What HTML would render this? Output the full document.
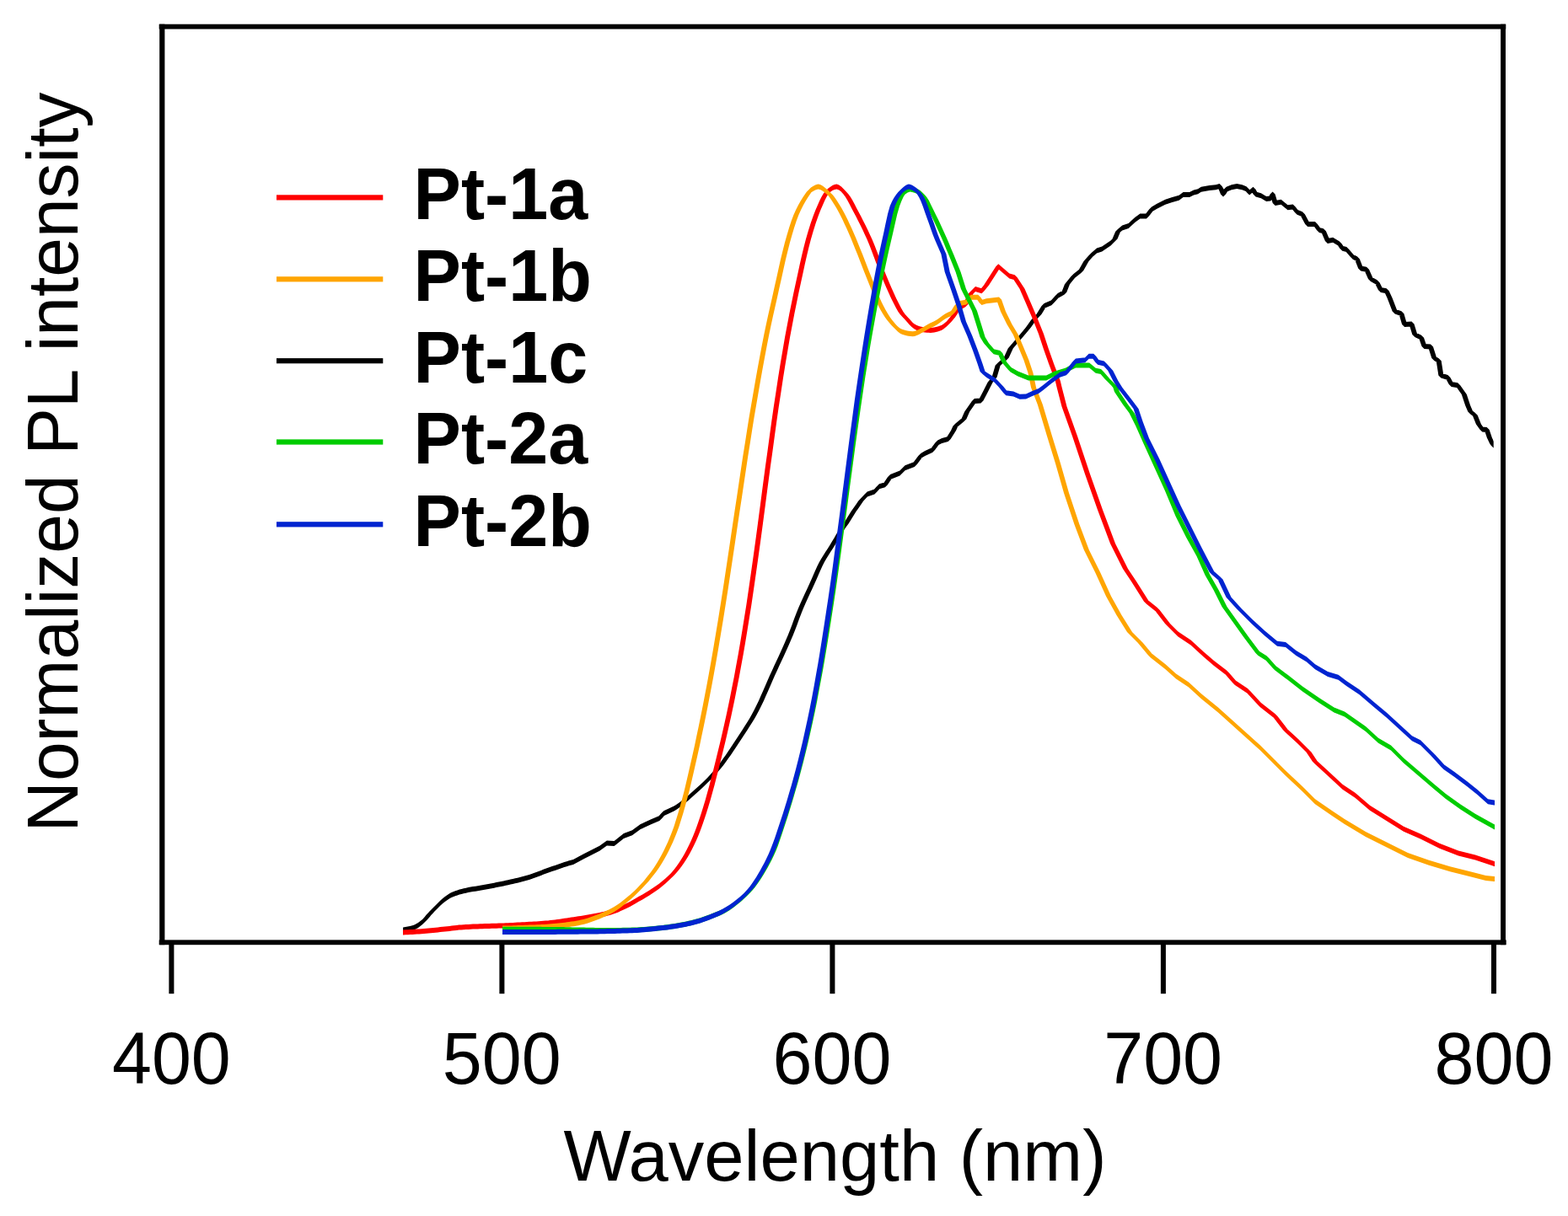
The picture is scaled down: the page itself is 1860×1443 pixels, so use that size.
<!DOCTYPE html>
<html lang="en"><head><meta charset="utf-8"><title>Normalized PL intensity vs Wavelength</title>
<style>
html,body{margin:0;padding:0;background:#fff;}
body{width:1860px;height:1443px;overflow:hidden;}
svg{display:block;}
text{font-family:"Liberation Sans",sans-serif;fill:#000;}
.tick{font-size:84.4px;text-anchor:middle;}
.axl{font-size:83.3px;text-anchor:middle;}
.leg{font-size:84.5px;font-weight:bold;}
</style></head><body>
<svg width="1860" height="1443" viewBox="0 0 1860 1443">
<rect x="0" y="0" width="1860" height="1443" fill="#ffffff"/>

<defs><clipPath id="c470"><rect x="478.1" y="0" width="1295" height="1443"/></clipPath><clipPath id="c500"><rect x="596" y="0" width="1177.1" height="1443"/></clipPath><clipPath id="cblk"><rect x="478.1" y="0" width="1293.6" height="1443"/></clipPath></defs>
<g id="curves">
<path d="M473 1103.6L476 1100.6L478.1 1100.4L481.1 1103.4L478.1 1106.4L476 1106.6ZM475.1 1103.4L478.1 1100.4L480.9 1100L483.9 1103L480.9 1106L478.1 1106.4ZM477.9 1103L480.9 1100L483.6 1099.6L486.6 1102.6L483.6 1105.6L480.9 1106ZM480.6 1102.6L483.6 1099.6L486.4 1099L489.4 1102L486.4 1105L483.6 1105.6ZM483.4 1102L486.4 1099L489.2 1098.3L492.2 1101.3L489.2 1104.3L486.4 1105ZM486.2 1101.3L489.2 1098.3L491.5 1097.4L494.5 1100.4L491.5 1103.4L489.2 1104.3ZM488.5 1100.4L491.5 1097.4L493.7 1096.3L496.7 1099.3L493.7 1102.3L491.5 1103.4ZM490.7 1099.3L493.7 1096.3L496 1094.9L499 1097.9L496 1100.9L493.7 1102.3ZM493 1097.9L496 1094.9L498.6 1093.1L501.6 1096.1L498.6 1099.1L496 1100.9ZM495.6 1096.1L498.6 1093.1L501.1 1090.9L504.1 1093.9L501.1 1096.9L498.6 1099.1ZM498.1 1093.9L501.1 1090.9L503.7 1088.5L506.7 1091.5L503.7 1094.5L501.1 1096.9ZM500.7 1091.5L503.4 1088.4L506.4 1085.4L509.4 1088.4L506.7 1091.5L503.7 1094.5ZM503.4 1088.4L506 1085.2L509 1082.2L512 1085.2L509.4 1088.4L506.4 1091.4ZM506 1085.2L509 1082.2L510.8 1080.4L513.8 1083.4L510.8 1086.4L509 1088.2ZM507.8 1083.4L509.5 1081.6L512.5 1078.6L515.5 1081.6L513.8 1083.4L510.8 1086.4ZM509.5 1081.6L512 1079L515 1076L518 1079L515.5 1081.6L512.5 1084.6ZM512 1079L514.5 1076.4L517.5 1073.4L520.5 1076.4L518 1079L515 1082ZM514.5 1076.4L520 1070.9L523 1073.9L517.5 1079.4ZM517 1073.9L520 1070.9L522.5 1068.5L525.5 1071.5L522.5 1074.5L520 1076.9ZM519.5 1071.5L522.5 1068.5L525 1066.3L528 1069.3L525 1072.3L522.5 1074.5ZM522 1069.3L525 1066.3L527.5 1064.3L530.5 1067.3L527.5 1070.3L525 1072.3ZM524.5 1067.3L527.5 1064.3L530 1062.4L533 1065.4L530 1068.4L527.5 1070.3ZM527 1065.4L530 1062.4L532.5 1060.7L535.5 1063.7L532.5 1066.7L530 1068.4ZM529.5 1063.7L532.5 1060.7L535 1059.3L538 1062.3L535 1065.3L532.5 1066.7ZM532 1062.3L535 1059.3L537.5 1058.2L540.5 1061.2L537.5 1064.2L535 1065.3ZM534.5 1061.2L537.5 1058.2L540 1057.2L543 1060.2L540 1063.2L537.5 1064.2ZM537 1060.2L540 1057.2L542.5 1056.4L545.5 1059.4L542.5 1062.4L540 1063.2ZM539.5 1059.4L542.5 1056.4L545 1055.6L548 1058.6L545 1061.6L542.5 1062.4ZM542 1058.6L545 1055.6L547.5 1054.9L550.5 1057.9L547.5 1060.9L545 1061.6ZM544.5 1057.9L547.5 1054.9L550 1054.3L553 1057.3L550 1060.3L547.5 1060.9ZM547 1057.3L550 1054.3L552.8 1053.7L555.8 1056.7L552.8 1059.7L550 1060.3ZM549.8 1056.7L552.8 1053.7L555.6 1053.1L558.6 1056.1L555.6 1059.1L552.8 1059.7ZM552.6 1056.1L555.6 1053.1L558.3 1052.6L561.3 1055.6L558.3 1058.6L555.6 1059.1ZM555.3 1055.6L558.3 1052.6L561.1 1052.1L564.1 1055.1L561.1 1058.1L558.3 1058.6ZM558.1 1055.1L561.1 1052.1L563.9 1051.7L566.9 1054.7L563.9 1057.7L561.1 1058.1ZM560.9 1054.7L563.9 1051.7L566.7 1051.2L569.7 1054.2L566.7 1057.2L563.9 1057.7ZM563.7 1054.2L566.7 1051.2L569.4 1050.8L572.4 1053.8L569.4 1056.8L566.7 1057.2ZM566.4 1053.8L569.4 1050.8L572.2 1050.3L575.2 1053.3L572.2 1056.3L569.4 1056.8ZM569.2 1053.3L572.2 1050.3L575 1049.8L578 1052.8L575 1055.8L572.2 1056.3ZM572 1052.8L575 1049.8L577.8 1049.3L580.8 1052.3L577.8 1055.3L575 1055.8ZM574.8 1052.3L577.8 1049.3L580.6 1048.7L583.6 1051.7L580.6 1054.7L577.8 1055.3ZM577.6 1051.7L580.6 1048.7L583.3 1048.2L586.3 1051.2L583.3 1054.2L580.6 1054.7ZM580.3 1051.2L583.3 1048.2L586.1 1047.7L589.1 1050.7L586.1 1053.7L583.3 1054.2ZM583.1 1050.7L586.1 1047.7L588.9 1047.1L591.9 1050.1L588.9 1053.1L586.1 1053.7ZM585.9 1050.1L588.9 1047.1L591.7 1046.6L594.7 1049.6L591.7 1052.6L588.9 1053.1ZM588.7 1049.6L591.7 1046.6L594.4 1046L597.4 1049L594.4 1052L591.7 1052.6ZM591.4 1049L594.4 1046L597.2 1045.4L600.2 1048.4L597.2 1051.4L594.4 1052ZM594.2 1048.4L597.2 1045.4L600 1044.8L603 1047.8L600 1050.8L597.2 1051.4ZM597 1047.8L600 1044.8L602.8 1044.2L605.8 1047.2L602.8 1050.2L600 1050.8ZM599.8 1047.2L602.8 1044.2L605.6 1043.6L608.6 1046.6L605.6 1049.6L602.8 1050.2ZM602.6 1046.6L605.6 1043.6L608.3 1043L611.3 1046L608.3 1049L605.6 1049.6ZM605.3 1046L608.3 1043L611.1 1042.3L614.1 1045.3L611.1 1048.3L608.3 1049ZM608.1 1045.3L611.1 1042.3L613.9 1041.7L616.9 1044.7L613.9 1047.7L611.1 1048.3ZM610.9 1044.7L613.9 1041.7L616.7 1041L619.7 1044L616.7 1047L613.9 1047.7ZM613.7 1044L616.7 1041L619.4 1040.3L622.4 1043.3L619.4 1046.3L616.7 1047ZM616.4 1043.3L619.4 1040.3L622.2 1039.6L625.2 1042.6L622.2 1045.6L619.4 1046.3ZM619.2 1042.6L622.2 1039.6L625 1038.8L628 1041.8L625 1044.8L622.2 1045.6ZM622 1041.8L625 1038.8L627.8 1038L630.8 1041L627.8 1044L625 1044.8ZM624.8 1041L627.8 1038L630.6 1037L633.6 1040L630.6 1043L627.8 1044ZM627.6 1040L630.6 1037L633.3 1036L636.3 1039L633.3 1042L630.6 1043ZM630.3 1039L633.3 1036L636.1 1035L639.1 1038L636.1 1041L633.3 1042ZM633.1 1038L636.1 1035L638.9 1034L641.9 1037L638.9 1040L636.1 1041ZM635.9 1037L638.9 1034L641.7 1032.9L644.7 1035.9L641.7 1038.9L638.9 1040ZM638.7 1035.9L641.7 1032.9L644.4 1031.8L647.4 1034.8L644.4 1037.8L641.7 1038.9ZM641.4 1034.8L644.4 1031.8L647.2 1030.8L650.2 1033.8L647.2 1036.8L644.4 1037.8ZM644.2 1033.8L647.2 1030.8L650 1029.8L653 1032.8L650 1035.8L647.2 1036.8ZM647 1032.8L650 1029.8L652.8 1028.8L655.8 1031.8L652.8 1034.8L650 1035.8ZM649.8 1031.8L652.8 1028.8L655.6 1027.8L658.6 1030.8L655.6 1033.8L652.8 1034.8ZM652.6 1030.8L655.6 1027.8L658.3 1026.9L661.3 1029.9L658.3 1032.9L655.6 1033.8ZM655.3 1029.9L658.3 1026.9L661.1 1025.9L664.1 1028.9L661.1 1031.9L658.3 1032.9ZM658.1 1028.9L661.1 1025.9L663.9 1024.9L666.9 1027.9L663.9 1030.9L661.1 1031.9ZM660.9 1027.9L663.9 1024.9L666.7 1024L669.7 1027L666.7 1030L663.9 1030.9ZM663.7 1027L666.7 1024L669.4 1023L672.4 1026L669.4 1029L666.7 1030ZM666.4 1026L669.4 1023L672.2 1022.2L675.2 1025.2L672.2 1028.2L669.4 1029ZM669.2 1025.2L672.2 1022.2L675 1021.3L678 1024.3L675 1027.3L672.2 1028.2ZM672 1024.3L675 1021.3L680 1019.9L683 1022.9L680 1025.9L675 1027.3ZM677 1022.9L680 1019.9L692.5 1013.3L695.5 1016.3L692.5 1019.3L680 1025.9ZM689.5 1016.3L692.5 1013.3L711.2 1003.7L714.2 1006.7L711.2 1009.7L692.5 1019.3ZM708.2 1006.7L711.2 1003.7L719.9 997.4L722.9 1000.4L719.9 1003.4L711.2 1009.7ZM716.9 1000.4L719.9 997.4L728.6 998.1L731.6 1001.1L728.6 1004.1L719.9 1003.4ZM725.6 1001.1L728.6 998.1L739.9 989.1L742.9 992.1L739.9 995.1L728.6 1004.1ZM736.9 992.1L739.9 989.1L749.9 985.2L752.9 988.2L749.9 991.2L739.9 995.1ZM746.9 988.2L749.9 985.2L759.8 978.1L762.8 981.1L759.8 984.1L749.9 991.2ZM756.8 981.1L759.8 978.1L772.3 972.3L775.3 975.3L772.3 978.3L759.8 984.1ZM769.3 975.3L772.3 972.3L782.3 968L785.3 971L782.3 974L772.3 978.3ZM779.3 971L784.3 965.3L787.3 962.3L790.3 965.3L785.3 971L782.3 974ZM784.3 965.3L787.3 962.3L798.5 957.1L801.5 960.1L798.5 963.1L787.3 968.3ZM795.5 960.1L798.5 957.1L800 956.3L803 959.3L800 962.3L798.5 963.1ZM797 959.3L800 956.3L802.8 954.5L805.8 957.5L802.8 960.5L800 962.3ZM799.8 957.5L802.8 954.5L805.6 952.6L808.6 955.6L805.6 958.6L802.8 960.5ZM802.6 955.6L805.6 952.6L808.3 950.5L811.3 953.5L808.3 956.5L805.6 958.6ZM805.3 953.5L808.3 950.5L811.1 948.3L814.1 951.3L811.1 954.3L808.3 956.5ZM808.1 951.3L811.1 948.3L813.9 946L816.9 949L813.9 952L811.1 954.3ZM810.9 949L813.9 946L816.7 943.7L819.7 946.7L816.7 949.7L813.9 952ZM813.7 946.7L816.7 943.7L819.4 941.2L822.4 944.2L819.4 947.2L816.7 949.7ZM816.4 944.2L819.4 941.2L822.2 938.8L825.2 941.8L822.2 944.8L819.4 947.2ZM819.2 941.8L822.2 938.8L825 936.3L828 939.3L825 942.3L822.2 944.8ZM822 939.3L825 936.3L827.8 933.8L830.8 936.8L827.8 939.8L825 942.3ZM824.8 936.8L827.8 933.8L830.6 931.3L833.6 934.3L830.6 937.3L827.8 939.8ZM827.6 934.3L830.6 931.3L833.3 928.7L836.3 931.7L833.3 934.7L830.6 937.3ZM830.3 931.7L833.3 928.7L836.1 926L839.1 929L836.1 932L833.3 934.7ZM833.1 929L836.1 926L838.9 923.3L841.9 926.3L838.9 929.3L836.1 932ZM835.9 926.3L838.9 923.3L841.7 920.5L844.7 923.5L841.7 926.5L838.9 929.3ZM838.7 923.5L841.4 920.5L844.4 917.5L847.4 920.5L844.7 923.5L841.7 926.5ZM841.4 920.5L844.2 917.5L847.2 914.5L850.2 917.5L847.4 920.5L844.4 923.5ZM844.2 917.5L847 914.3L850 911.3L853 914.3L850.2 917.5L847.2 920.5ZM847 914.3L849.8 911L852.8 908L855.8 911L853 914.3L850 917.3ZM849.8 911L852.6 907.4L855.6 904.4L858.6 907.4L855.8 911L852.8 914ZM852.6 907.4L855.3 903.7L858.3 900.7L861.3 903.7L858.6 907.4L855.6 910.4ZM855.3 903.7L858.1 899.8L861.1 896.8L864.1 899.8L861.3 903.7L858.3 906.7ZM858.1 899.8L860.9 895.9L863.9 892.9L866.9 895.9L864.1 899.8L861.1 902.8ZM860.9 895.9L863.7 891.8L866.7 888.8L869.7 891.8L866.9 895.9L863.9 898.9ZM863.7 891.8L866.4 887.7L869.4 884.7L872.4 887.7L869.7 891.8L866.7 894.8ZM866.4 887.7L869.2 883.5L872.2 880.5L875.2 883.5L872.4 887.7L869.4 890.7ZM869.2 883.5L872 879.3L875 876.3L878 879.3L875.2 883.5L872.2 886.5ZM872 879.3L874.8 875.1L877.8 872.1L880.8 875.1L878 879.3L875 882.3ZM874.8 875.1L877.6 870.8L880.6 867.8L883.6 870.8L880.8 875.1L877.8 878.1ZM877.6 870.8L880.4 866.5L883.4 863.5L886.4 866.5L883.6 870.8L880.6 873.8ZM880.4 866.5L883.2 862.1L886.2 859.1L889.2 862.1L886.4 866.5L883.4 869.5ZM883.2 862.1L886.1 857.6L889.1 854.6L892.1 857.6L889.2 862.1L886.2 865.1ZM886.1 857.6L888.9 852.9L891.9 849.9L894.9 852.9L892.1 857.6L889.1 860.6ZM888.9 852.9L891.7 848L894.7 845L897.7 848L894.9 852.9L891.9 855.9ZM891.7 848L894.5 842.8L897.5 839.8L900.5 842.8L897.7 848L894.7 851ZM894.5 842.8L897.1 837.6L900.1 834.6L903.1 837.6L900.5 842.8L897.5 845.8ZM897.1 837.6L899.8 832L902.8 829L905.8 832L903.1 837.6L900.1 840.6ZM899.8 832L902.4 826.1L905.4 823.1L908.4 826.1L905.8 832L902.8 835ZM902.4 826.1L905.1 820L908.1 817L911.1 820L908.4 826.1L905.4 829.1ZM905.1 820L907.7 813.9L910.7 810.9L913.7 813.9L911.1 820L908.1 823ZM907.7 813.9L910.4 807.8L913.4 804.8L916.4 807.8L913.7 813.9L910.7 816.9ZM910.4 807.8L913 801.8L916 798.8L919 801.8L916.4 807.8L913.4 810.8ZM913 801.8L915.7 795.9L918.7 792.9L921.7 795.9L919 801.8L916 804.8ZM915.7 795.9L918.4 790.1L921.4 787.1L924.4 790.1L921.7 795.9L918.7 798.9ZM918.4 790.1L921.1 784.3L924.1 781.3L927.1 784.3L924.4 790.1L921.4 793.1ZM921.1 784.3L923.8 778.6L926.8 775.6L929.8 778.6L927.1 784.3L924.1 787.3ZM923.8 778.6L926.4 772.7L929.4 769.7L932.4 772.7L929.8 778.6L926.8 781.6ZM926.4 772.7L929.1 766.8L932.1 763.8L935.1 766.8L932.4 772.7L929.4 775.7ZM929.1 766.8L931.8 760.6L934.8 757.6L937.8 760.6L935.1 766.8L932.1 769.8ZM931.8 760.6L934.5 754.3L937.5 751.3L940.5 754.3L937.8 760.6L934.8 763.6ZM934.5 754.3L937 748L940 745L943 748L940.5 754.3L937.5 757.3ZM937 748L939.5 741.4L942.5 738.4L945.5 741.4L943 748L940 751ZM939.5 741.4L942 734.6L945 731.6L948 734.6L945.5 741.4L942.5 744.4ZM942 734.6L944.5 728L947.5 725L950.5 728L948 734.6L945 737.6ZM944.5 728L947 721.8L950 718.8L953 721.8L950.5 728L947.5 731ZM947 721.8L949.5 716L952.5 713L955.5 716L953 721.8L950 724.8ZM949.5 716L952 710.5L955 707.5L958 710.5L955.5 716L952.5 719ZM952 710.5L954.5 705.1L957.5 702.1L960.5 705.1L958 710.5L955 713.5ZM954.5 705.1L957 699.7L960 696.7L963 699.7L960.5 705.1L957.5 708.1ZM957 699.7L959.5 694.3L962.5 691.3L965.5 694.3L963 699.7L960 702.7ZM959.5 694.3L962 688.7L965 685.7L968 688.7L965.5 694.3L962.5 697.3ZM962 688.7L964.5 682.9L967.5 679.9L970.5 682.9L968 688.7L965 691.7ZM964.5 682.9L967 677.2L970 674.2L973 677.2L970.5 682.9L967.5 685.9ZM967 677.2L969.5 671.7L972.5 668.7L975.5 671.7L973 677.2L970 680.2ZM969.5 671.7L972 666.8L975 663.8L978 666.8L975.5 671.7L972.5 674.7ZM972 666.8L974.5 662.4L977.5 659.4L980.5 662.4L978 666.8L975 669.8ZM974.5 662.4L977 658.4L980 655.4L983 658.4L980.5 662.4L977.5 665.4ZM977 658.4L979.5 654.5L982.5 651.5L985.5 654.5L983 658.4L980 661.4ZM979.5 654.5L982 650.7L985 647.7L988 650.7L985.5 654.5L982.5 657.5ZM982 650.7L984.5 646.8L987.5 643.8L990.5 646.8L988 650.7L985 653.7ZM984.5 646.8L987 642.6L990 639.6L993 642.6L990.5 646.8L987.5 649.8ZM987 642.6L989.5 638.4L992.5 635.4L995.5 638.4L993 642.6L990 645.6ZM989.5 638.4L992 634.1L995 631.1L998 634.1L995.5 638.4L992.5 641.4ZM992 634.1L994.5 630L997.5 627L1000.5 630L998 634.1L995 637.1ZM994.5 630L997 626.2L1000 623.2L1003 626.2L1000.5 630L997.5 633ZM997 626.2L1000.7 621.2L1003.7 618.2L1006.7 621.2L1003 626.2L1000 629.2ZM1000.7 621.2L1009.5 607.1L1012.5 604.1L1015.5 607.1L1006.7 621.2L1003.7 624.2ZM1009.5 607.1L1018.2 594.6L1021.2 591.6L1024.2 594.6L1015.5 607.1L1012.5 610.1ZM1018.2 594.6L1025.7 586.5L1028.7 583.5L1031.7 586.5L1024.2 594.6L1021.2 597.6ZM1025.7 586.5L1028.7 583.5L1037.4 580.4L1040.4 583.4L1037.4 586.4L1028.7 589.5ZM1034.4 583.4L1040 577.2L1043 574.2L1046 577.2L1040.4 583.4L1037.4 586.4ZM1040 577.2L1043 574.2L1049.9 572.3L1052.9 575.3L1049.9 578.3L1043 580.2ZM1046.9 575.3L1053.1 565.9L1056.1 562.9L1059.1 565.9L1052.9 575.3L1049.9 578.3ZM1053.1 565.9L1056.1 562.9L1067.4 558.6L1070.4 561.6L1067.4 564.6L1056.1 568.9ZM1064.4 561.6L1070.6 555.3L1073.6 552.3L1076.6 555.3L1070.4 561.6L1067.4 564.6ZM1070.6 555.3L1073.6 552.3L1084.8 548L1087.8 551L1084.8 554L1073.6 558.3ZM1081.8 551L1089.3 541L1092.3 538L1095.3 541L1087.8 551L1084.8 554ZM1089.3 541L1092.3 538L1097.3 534.9L1100.3 537.9L1097.3 540.9L1092.3 544ZM1094.3 537.9L1097.3 534.9L1106 531.1L1109 534.1L1106 537.1L1097.3 540.9ZM1103 534.1L1109.3 525.4L1112.3 522.4L1115.3 525.4L1109 534.1L1106 537.1ZM1109.3 525.4L1112.3 522.4L1117.3 519.9L1120.3 522.9L1117.3 525.9L1112.3 528.4ZM1114.3 522.9L1117.3 519.9L1124.7 518L1127.7 521L1124.7 524L1117.3 525.9ZM1121.7 521L1128 511.1L1131 508.1L1134 511.1L1127.7 521L1124.7 524ZM1128 511.1L1130.5 505.4L1133.5 502.4L1136.5 505.4L1134 511.1L1131 514.1ZM1130.5 505.4L1133.5 502.4L1143.4 494.3L1146.4 497.3L1143.4 500.3L1133.5 508.4ZM1140.4 497.3L1144.2 488.6L1147.2 485.6L1150.2 488.6L1146.4 497.3L1143.4 500.3ZM1144.2 488.6L1152.9 476.1L1155.9 473.1L1158.9 476.1L1150.2 488.6L1147.2 491.6ZM1152.9 476.1L1155.9 473.1L1163.4 472.5L1166.4 475.5L1163.4 478.5L1155.9 479.1ZM1160.4 475.5L1165.4 466.1L1168.4 463.1L1171.4 466.1L1166.4 475.5L1163.4 478.5ZM1165.4 466.1L1171.6 453.7L1174.6 450.7L1177.6 453.7L1171.4 466.1L1168.4 469.1ZM1171.6 453.7L1176.6 447.4L1179.6 444.4L1182.6 447.4L1177.6 453.7L1174.6 456.7ZM1176.6 447.4L1180.7 433.4L1183.7 430.4L1186.7 433.4L1182.6 447.4L1179.6 450.4ZM1180.7 433.4L1183.7 430.4L1193.7 421.6L1196.7 424.6L1193.7 427.6L1183.7 436.4ZM1190.7 424.6L1195.7 413.4L1198.7 410.4L1201.7 413.4L1196.7 424.6L1193.7 427.6ZM1195.7 413.4L1203.2 404.7L1206.2 401.7L1209.2 404.7L1201.7 413.4L1198.7 416.4ZM1203.2 404.7L1210.7 396L1213.7 393L1216.7 396L1209.2 404.7L1206.2 407.7ZM1210.7 396L1216.9 388.5L1219.9 385.5L1222.9 388.5L1216.7 396L1213.7 399ZM1216.9 388.5L1223.1 379.7L1226.1 376.7L1229.1 379.7L1222.9 388.5L1219.9 391.5ZM1223.1 379.7L1229.4 372.9L1232.4 369.9L1235.4 372.9L1229.1 379.7L1226.1 382.7ZM1229.4 372.9L1235.6 362.9L1238.6 359.9L1241.6 362.9L1235.4 372.9L1232.4 375.9ZM1235.6 362.9L1238.6 359.9L1247.3 356.2L1250.3 359.2L1247.3 362.2L1238.6 365.9ZM1244.3 359.2L1251.8 351.1L1254.8 348.1L1257.8 351.1L1250.3 359.2L1247.3 362.2ZM1251.8 351.1L1254.8 348.1L1262.3 343.7L1265.3 346.7L1262.3 349.7L1254.8 354.1ZM1259.3 346.7L1263 337.3L1266 334.3L1269 337.3L1265.3 346.7L1262.3 349.7ZM1263 337.3L1270.5 328L1273.5 325L1276.5 328L1269 337.3L1266 340.3ZM1270.5 328L1273.5 325L1282.3 318.1L1285.3 321.1L1282.3 324.1L1273.5 331ZM1279.3 321.1L1285.5 309.9L1288.5 306.9L1291.5 309.9L1285.3 321.1L1282.3 324.1ZM1285.5 309.9L1291.7 303L1294.7 300L1297.7 303L1291.5 309.9L1288.5 312.9ZM1291.7 303L1294.7 300L1301 294.4L1304 297.4L1301 300.4L1294.7 306ZM1298 297.4L1301 294.4L1307.2 292.5L1310.2 295.5L1307.2 298.5L1301 300.4ZM1304.2 295.5L1307.2 292.5L1317.5 285.5L1320.5 288.5L1317.5 291.5L1307.2 298.5ZM1314.5 288.5L1322.5 280.5L1325.5 283.5L1317.5 291.5ZM1319.5 283.5L1323.2 274.7L1326.2 271.7L1329.2 274.7L1325.5 283.5L1322.5 286.5ZM1323.2 274.7L1326.2 271.7L1331.2 267.4L1334.2 270.4L1331.2 273.4L1326.2 277.7ZM1328.2 270.4L1331.2 267.4L1338.7 264.9L1341.7 267.9L1338.7 270.9L1331.2 273.4ZM1335.7 267.9L1338.7 264.9L1346.2 258L1349.2 261L1346.2 264L1338.7 270.9ZM1343.2 261L1346.2 258L1352.4 253.6L1355.4 256.6L1352.4 259.6L1346.2 264ZM1349.4 256.6L1352.4 253.6L1359.9 253.6L1362.9 256.6L1359.9 259.6L1352.4 259.6ZM1356.9 256.6L1363.1 248.5L1366.1 245.5L1369.1 248.5L1362.9 256.6L1359.9 259.6ZM1363.1 248.5L1366.1 245.5L1372.4 241.8L1375.4 244.8L1372.4 247.8L1366.1 251.5ZM1369.4 244.8L1372.4 241.8L1382.3 236.8L1385.3 239.8L1382.3 242.8L1372.4 247.8ZM1379.3 239.8L1382.3 236.8L1389.8 234.3L1392.8 237.3L1389.8 240.3L1382.3 242.8ZM1386.8 237.3L1389.8 234.3L1398.6 231.8L1401.6 234.8L1398.6 237.8L1389.8 240.3ZM1395.6 234.8L1398.6 231.8L1403.6 228.1L1406.6 231.1L1403.6 234.1L1398.6 237.8ZM1400.6 231.1L1403.6 228.1L1411 228.1L1414 231.1L1411 234.1L1403.6 234.1ZM1408 231.1L1411 228.1L1416 225.6L1419 228.6L1416 231.6L1411 234.1ZM1413 228.6L1416 225.6L1421 224.3L1424 227.3L1421 230.3L1416 231.6ZM1418 227.3L1421 224.3L1424.8 221.8L1427.8 224.8L1424.8 227.8L1421 230.3ZM1421.8 224.8L1424.8 221.8L1434.7 220L1437.7 223L1434.7 226L1424.8 227.8ZM1431.7 223L1434.7 220L1442.2 219.3L1445.2 222.3L1442.2 225.3L1434.7 226ZM1439.2 222.3L1442.2 219.3L1446.6 218.1L1449.6 221.1L1446.6 224.1L1442.2 225.3ZM1443.6 221.1L1446.6 218.1L1449.6 221.1L1451.5 224.2L1448.5 227.2L1445.5 224.2ZM1445.5 224.2L1448.5 221.2L1451.5 224.2L1454 230.4L1451 233.4L1448 230.4ZM1448 230.4L1451.7 224.8L1454.7 221.8L1457.7 224.8L1454 230.4L1451 233.4ZM1451.7 224.8L1454.7 221.8L1460.9 219.3L1463.9 222.3L1460.9 225.3L1454.7 227.8ZM1457.9 222.3L1460.9 219.3L1467.2 218.1L1470.2 221.1L1467.2 224.1L1460.9 225.3ZM1464.2 221.1L1467.2 218.1L1473.4 219.3L1476.4 222.3L1473.4 225.3L1467.2 224.1ZM1470.4 222.3L1473.4 219.3L1478.4 221.2L1481.4 224.2L1478.4 227.2L1473.4 225.3ZM1475.4 224.2L1478.4 221.2L1481.4 224.2L1485.1 228.6L1482.1 231.6L1479.1 228.6ZM1479.1 228.6L1482.1 225.6L1486.5 221.8L1489.5 224.8L1486.5 227.8L1482.1 231.6ZM1483.5 224.8L1486.5 221.8L1489.5 224.8L1492.6 230.4L1489.6 233.4L1486.6 230.4ZM1486.6 230.4L1489.6 227.4L1495.9 229.3L1498.9 232.3L1495.9 235.3L1489.6 233.4ZM1492.9 232.3L1495.9 229.3L1502.1 233.1L1505.1 236.1L1502.1 239.1L1495.9 235.3ZM1499.1 236.1L1502.1 233.1L1507.1 232.4L1510.1 235.4L1507.1 238.4L1502.1 239.1ZM1504.1 235.4L1506.6 230.4L1509.6 227.4L1512.6 230.4L1510.1 235.4L1507.1 238.4ZM1506.6 230.4L1509.6 227.4L1512.6 230.4L1515.7 241.1L1512.7 244.1L1509.7 241.1ZM1509.7 241.1L1512.7 238.1L1519.6 236.8L1522.6 239.8L1519.6 242.8L1512.7 244.1ZM1516.6 239.8L1519.6 236.8L1527.5 243.2L1530.5 246.2L1527.5 249.2L1519.6 242.8ZM1524.5 246.2L1527.5 243.2L1533.7 242.5L1536.7 245.5L1533.7 248.5L1527.5 249.2ZM1530.7 245.5L1533.7 242.5L1536.7 245.5L1541.7 251.8L1538.7 254.8L1535.7 251.8ZM1535.7 251.8L1538.7 248.8L1544.9 251.3L1547.9 254.3L1544.9 257.3L1538.7 254.8ZM1541.9 254.3L1544.9 251.3L1547.9 254.3L1554.2 266.1L1551.2 269.1L1548.2 266.1ZM1548.2 266.1L1551.2 263.1L1559.9 263.1L1562.9 266.1L1559.9 269.1L1551.2 269.1ZM1556.9 266.1L1559.9 263.1L1562.9 266.1L1567.9 273L1564.9 276L1561.9 273ZM1561.9 273L1564.9 270L1569.9 271.2L1572.9 274.2L1569.9 277.2L1564.9 276ZM1566.9 274.2L1569.9 271.2L1572.9 274.2L1577.9 286.1L1574.9 289.1L1571.9 286.1ZM1571.9 286.1L1574.9 283.1L1581.1 281.8L1584.1 284.8L1581.1 287.8L1574.9 289.1ZM1578.1 284.8L1581.1 281.8L1588.6 286.2L1591.6 289.2L1588.6 292.2L1581.1 287.8ZM1585.6 289.2L1588.6 286.2L1591.6 289.2L1595.3 294.8L1592.3 297.8L1589.3 294.8ZM1589.3 294.8L1592.3 291.8L1597.3 293.1L1600.3 296.1L1597.3 299.1L1592.3 297.8ZM1594.3 296.1L1597.3 293.1L1600.3 296.1L1607.8 304.8L1604.8 307.8L1601.8 304.8ZM1601.8 304.8L1604.8 301.8L1609.8 304.3L1612.8 307.3L1609.8 310.3L1604.8 307.8ZM1606.8 307.3L1609.8 304.3L1612.8 307.3L1617.2 318.5L1614.2 321.5L1611.2 318.5ZM1611.2 318.5L1614.2 315.5L1621 316.8L1624 319.8L1621 322.8L1614.2 321.5ZM1618 319.8L1621 316.8L1624 319.8L1629 331L1626 334L1623 331ZM1623 331L1626 328L1633.5 332.3L1636.5 335.3L1633.5 338.3L1626 334ZM1630.5 335.3L1633.5 332.3L1636.5 335.3L1640.9 344.1L1637.9 347.1L1634.9 344.1ZM1634.9 344.1L1637.9 341.1L1644.7 342.3L1647.7 345.3L1644.7 348.3L1637.9 347.1ZM1641.7 345.3L1644.7 342.3L1647.7 345.3L1651.5 353.4L1648.5 356.4L1645.5 353.4ZM1645.5 353.4L1648.5 350.4L1651.5 353.4L1657.7 369.6L1654.7 372.6L1651.7 369.6ZM1651.7 369.6L1654.7 366.6L1662.4 369.2L1665.4 372.2L1662.4 375.2L1654.7 372.6ZM1659.4 372.2L1662.4 369.2L1665.4 372.2L1669.1 384.9L1666.1 387.9L1663.1 384.9ZM1663.1 384.9L1666.1 381.9L1674.5 381.6L1677.5 384.6L1674.5 387.6L1666.1 387.9ZM1671.5 384.6L1674.5 381.6L1677.5 384.6L1681.3 397L1678.3 400L1675.3 397ZM1675.3 397L1678.3 394L1686 397.8L1689 400.8L1686 403.8L1678.3 400ZM1683 400.8L1686 397.8L1689 400.8L1692.5 411L1689.5 414L1686.5 411ZM1686.5 411L1689.5 408L1697 408.5L1700 411.5L1697 414.5L1689.5 414ZM1694 411.5L1697 408.5L1700 411.5L1704.3 425L1701.3 428L1698.3 425ZM1698.3 425L1701.3 422L1706.7 425.2L1709.7 428.2L1706.7 431.2L1701.3 428ZM1703.7 428.2L1706.7 425.2L1709.7 428.2L1712.4 445.4L1709.4 448.4L1706.4 445.4ZM1706.4 445.4L1709.4 442.4L1717.4 445.1L1720.4 448.1L1717.4 451.1L1709.4 448.4ZM1714.4 448.1L1717.4 445.1L1720.4 448.1L1724.7 456.1L1721.7 459.1L1718.7 456.1ZM1718.7 456.1L1721.7 453.1L1729.2 454.2L1732.2 457.2L1729.2 460.2L1721.7 459.1ZM1726.2 457.2L1729.2 454.2L1732.2 457.2L1739.8 468L1736.8 471L1733.8 468ZM1733.8 468L1736.8 465L1739.8 468L1744.1 480.9L1741.1 483.9L1738.1 480.9ZM1738.1 480.9L1741.1 477.9L1744.1 480.9L1747.3 488.4L1744.3 491.4L1741.3 488.4ZM1741.3 488.4L1744.3 485.4L1749.7 489.7L1752.7 492.7L1749.7 495.7L1744.3 491.4ZM1746.7 492.7L1749.7 489.7L1752.7 492.7L1757 503.5L1754 506.5L1751 503.5ZM1751 503.5L1754 500.5L1757 503.5L1761.3 509.4L1758.3 512.4L1755.3 509.4ZM1755.3 509.4L1758.3 506.4L1763.7 506.9L1766.7 509.9L1763.7 512.9L1758.3 512.4ZM1760.7 509.9L1763.7 506.9L1766.7 509.9L1769.9 519.6L1766.9 522.6L1763.9 519.6ZM1763.9 519.6L1766.9 516.6L1769.9 519.6L1773.1 526.2L1770.1 529.2L1767.1 526.2ZM1767.1 526.2L1770.1 523.2L1773.1 526.2L1774.6 528.6L1771.6 531.6L1768.6 528.6Z" fill="#000000" fill-rule="nonzero" stroke="none" clip-path="url(#cblk)"/>
<path d="M473 1106.7L476 1103.7L478.5 1103.5L481.5 1106.5L478.5 1109.5L476 1109.7ZM475.5 1106.5L478.5 1103.5L481.2 1103.3L484.2 1106.3L481.2 1109.3L478.5 1109.5ZM478.2 1106.3L481.2 1103.3L483.9 1103.2L486.9 1106.2L483.9 1109.2L481.2 1109.3ZM480.9 1106.2L483.9 1103.2L486.6 1103L489.6 1106L486.6 1109L483.9 1109.2ZM483.6 1106L486.6 1103L489.2 1102.9L492.2 1105.9L489.2 1108.9L486.6 1109ZM486.2 1105.9L489.2 1102.9L491.9 1102.7L494.9 1105.7L491.9 1108.7L489.2 1108.9ZM488.9 1105.7L491.9 1102.7L494.6 1102.6L497.6 1105.6L494.6 1108.6L491.9 1108.7ZM491.6 1105.6L494.6 1102.6L497.3 1102.4L500.3 1105.4L497.3 1108.4L494.6 1108.6ZM494.3 1105.4L497.3 1102.4L500 1102.2L503 1105.2L500 1108.2L497.3 1108.4ZM497 1105.2L500 1102.2L502.8 1102L505.8 1105L502.8 1108L500 1108.2ZM499.8 1105L502.8 1102L505.6 1101.7L508.6 1104.7L505.6 1107.7L502.8 1108ZM502.6 1104.7L505.6 1101.7L508.3 1101.5L511.3 1104.5L508.3 1107.5L505.6 1107.7ZM505.3 1104.5L508.3 1101.5L511.1 1101.2L514.1 1104.2L511.1 1107.2L508.3 1107.5ZM508.1 1104.2L511.1 1101.2L513.9 1100.9L516.9 1103.9L513.9 1106.9L511.1 1107.2ZM510.9 1103.9L513.9 1100.9L516.7 1100.7L519.7 1103.7L516.7 1106.7L513.9 1106.9ZM513.7 1103.7L516.7 1100.7L519.4 1100.4L522.4 1103.4L519.4 1106.4L516.7 1106.7ZM516.4 1103.4L519.4 1100.4L522.2 1100.1L525.2 1103.1L522.2 1106.1L519.4 1106.4ZM519.2 1103.1L522.2 1100.1L525 1099.8L528 1102.8L525 1105.8L522.2 1106.1ZM522 1102.8L525 1099.8L527.8 1099.5L530.8 1102.5L527.8 1105.5L525 1105.8ZM524.8 1102.5L527.8 1099.5L530.6 1099.2L533.6 1102.2L530.6 1105.2L527.8 1105.5ZM527.6 1102.2L530.6 1099.2L533.3 1098.9L536.3 1101.9L533.3 1104.9L530.6 1105.2ZM530.3 1101.9L533.3 1098.9L536.1 1098.5L539.1 1101.5L536.1 1104.5L533.3 1104.9ZM533.1 1101.5L536.1 1098.5L538.9 1098.2L541.9 1101.2L538.9 1104.2L536.1 1104.5ZM535.9 1101.2L538.9 1098.2L541.7 1097.9L544.7 1100.9L541.7 1103.9L538.9 1104.2ZM538.7 1100.9L541.7 1097.9L544.4 1097.6L547.4 1100.6L544.4 1103.6L541.7 1103.9ZM541.4 1100.6L544.4 1097.6L547.2 1097.4L550.2 1100.4L547.2 1103.4L544.4 1103.6ZM544.2 1100.4L547.2 1097.4L550 1097.2L553 1100.2L550 1103.2L547.2 1103.4ZM547 1100.2L550 1097.2L552.8 1097L555.8 1100L552.8 1103L550 1103.2ZM549.8 1100L552.8 1097L555.6 1096.9L558.6 1099.9L555.6 1102.9L552.8 1103ZM552.6 1099.9L555.6 1096.9L558.3 1096.8L561.3 1099.8L558.3 1102.8L555.6 1102.9ZM555.3 1099.8L558.3 1096.8L561.1 1096.6L564.1 1099.6L561.1 1102.6L558.3 1102.8ZM558.1 1099.6L561.1 1096.6L563.9 1096.5L566.9 1099.5L563.9 1102.5L561.1 1102.6ZM560.9 1099.5L563.9 1096.5L566.7 1096.4L569.7 1099.4L566.7 1102.4L563.9 1102.5ZM563.7 1099.4L566.7 1096.4L569.4 1096.3L572.4 1099.3L569.4 1102.3L566.7 1102.4ZM566.4 1099.3L569.4 1096.3L572.2 1096.2L575.2 1099.2L572.2 1102.2L569.4 1102.3ZM569.2 1099.2L572.2 1096.2L575 1096.1L578 1099.1L575 1102.1L572.2 1102.2ZM572 1099.1L575 1096.1L577.8 1096L580.8 1099L577.8 1102L575 1102.1ZM574.8 1099L577.8 1096L580.6 1095.9L583.6 1098.9L580.6 1101.9L577.8 1102ZM577.6 1098.9L580.6 1095.9L583.3 1095.8L586.3 1098.8L583.3 1101.8L580.6 1101.9ZM580.3 1098.8L583.3 1095.8L586.1 1095.7L589.1 1098.7L586.1 1101.7L583.3 1101.8ZM583.1 1098.7L586.1 1095.7L588.9 1095.7L591.9 1098.7L588.9 1101.7L586.1 1101.7ZM585.9 1098.7L588.9 1095.7L591.7 1095.6L594.7 1098.6L591.7 1101.6L588.9 1101.7ZM588.7 1098.6L591.7 1095.6L594.4 1095.5L597.4 1098.5L594.4 1101.5L591.7 1101.6ZM591.4 1098.5L594.4 1095.5L597.2 1095.4L600.2 1098.4L597.2 1101.4L594.4 1101.5ZM594.2 1098.4L597.2 1095.4L600 1095.3L603 1098.3L600 1101.3L597.2 1101.4ZM597 1098.3L600 1095.3L602.8 1095.2L605.8 1098.2L602.8 1101.2L600 1101.3ZM599.8 1098.2L602.8 1095.2L605.6 1095.1L608.6 1098.1L605.6 1101.1L602.8 1101.2ZM602.6 1098.1L605.6 1095.1L608.3 1094.9L611.3 1097.9L608.3 1100.9L605.6 1101.1ZM605.3 1097.9L608.3 1094.9L611.1 1094.8L614.1 1097.8L611.1 1100.8L608.3 1100.9ZM608.1 1097.8L611.1 1094.8L613.9 1094.6L616.9 1097.6L613.9 1100.6L611.1 1100.8ZM610.9 1097.6L613.9 1094.6L616.7 1094.5L619.7 1097.5L616.7 1100.5L613.9 1100.6ZM613.7 1097.5L616.7 1094.5L619.4 1094.3L622.4 1097.3L619.4 1100.3L616.7 1100.5ZM616.4 1097.3L619.4 1094.3L622.2 1094.2L625.2 1097.2L622.2 1100.2L619.4 1100.3ZM619.2 1097.2L622.2 1094.2L625 1094L628 1097L625 1100L622.2 1100.2ZM622 1097L625 1094L627.8 1093.8L630.8 1096.8L627.8 1099.8L625 1100ZM624.8 1096.8L627.8 1093.8L630.6 1093.7L633.6 1096.7L630.6 1099.7L627.8 1099.8ZM627.6 1096.7L630.6 1093.7L633.3 1093.5L636.3 1096.5L633.3 1099.5L630.6 1099.7ZM630.3 1096.5L633.3 1093.5L636.1 1093.4L639.1 1096.4L636.1 1099.4L633.3 1099.5ZM633.1 1096.4L636.1 1093.4L638.9 1093.2L641.9 1096.2L638.9 1099.2L636.1 1099.4ZM635.9 1096.2L638.9 1093.2L641.7 1093L644.7 1096L641.7 1099L638.9 1099.2ZM638.7 1096L641.7 1093L644.4 1092.8L647.4 1095.8L644.4 1098.8L641.7 1099ZM641.4 1095.8L644.4 1092.8L647.2 1092.6L650.2 1095.6L647.2 1098.6L644.4 1098.8ZM644.2 1095.6L647.2 1092.6L650 1092.4L653 1095.4L650 1098.4L647.2 1098.6ZM647 1095.4L650 1092.4L652.8 1092.1L655.8 1095.1L652.8 1098.1L650 1098.4ZM649.8 1095.1L652.8 1092.1L655.6 1091.8L658.6 1094.8L655.6 1097.8L652.8 1098.1ZM652.6 1094.8L655.6 1091.8L658.3 1091.5L661.3 1094.5L658.3 1097.5L655.6 1097.8ZM655.3 1094.5L658.3 1091.5L661.1 1091.1L664.1 1094.1L661.1 1097.1L658.3 1097.5ZM658.1 1094.1L661.1 1091.1L663.9 1090.7L666.9 1093.7L663.9 1096.7L661.1 1097.1ZM660.9 1093.7L663.9 1090.7L666.7 1090.3L669.7 1093.3L666.7 1096.3L663.9 1096.7ZM663.7 1093.3L666.7 1090.3L669.4 1089.8L672.4 1092.8L669.4 1095.8L666.7 1096.3ZM666.4 1092.8L669.4 1089.8L672.2 1089.4L675.2 1092.4L672.2 1095.4L669.4 1095.8ZM669.2 1092.4L672.2 1089.4L675 1089L678 1092L675 1095L672.2 1095.4ZM672 1092L675 1089L677.8 1088.6L680.8 1091.6L677.8 1094.6L675 1095ZM674.8 1091.6L677.8 1088.6L680.6 1088.2L683.6 1091.2L680.6 1094.2L677.8 1094.6ZM677.6 1091.2L680.6 1088.2L683.3 1087.8L686.3 1090.8L683.3 1093.8L680.6 1094.2ZM680.3 1090.8L683.3 1087.8L686.1 1087.3L689.1 1090.3L686.1 1093.3L683.3 1093.8ZM683.1 1090.3L686.1 1087.3L688.9 1086.9L691.9 1089.9L688.9 1092.9L686.1 1093.3ZM685.9 1089.9L688.9 1086.9L691.7 1086.5L694.7 1089.5L691.7 1092.5L688.9 1092.9ZM688.7 1089.5L691.7 1086.5L694.4 1086L697.4 1089L694.4 1092L691.7 1092.5ZM691.4 1089L694.4 1086L697.2 1085.5L700.2 1088.5L697.2 1091.5L694.4 1092ZM694.2 1088.5L697.2 1085.5L700 1085L703 1088L700 1091L697.2 1091.5ZM697 1088L700 1085L702.8 1084.5L705.8 1087.5L702.8 1090.5L700 1091ZM699.8 1087.5L702.8 1084.5L705.6 1084L708.6 1087L705.6 1090L702.8 1090.5ZM702.6 1087L705.6 1084L708.3 1083.4L711.3 1086.4L708.3 1089.4L705.6 1090ZM705.3 1086.4L708.3 1083.4L711.1 1082.9L714.1 1085.9L711.1 1088.9L708.3 1089.4ZM708.1 1085.9L711.1 1082.9L713.9 1082.3L716.9 1085.3L713.9 1088.3L711.1 1088.9ZM710.9 1085.3L713.9 1082.3L716.7 1081.7L719.7 1084.7L716.7 1087.7L713.9 1088.3ZM713.7 1084.7L716.7 1081.7L719.4 1081L722.4 1084L719.4 1087L716.7 1087.7ZM716.4 1084L719.4 1081L722.2 1080.3L725.2 1083.3L722.2 1086.3L719.4 1087ZM719.2 1083.3L722.2 1080.3L725 1079.5L728 1082.5L725 1085.5L722.2 1086.3ZM722 1082.5L725 1079.5L727.8 1078.6L730.8 1081.6L727.8 1084.6L725 1085.5ZM724.8 1081.6L727.8 1078.6L730.7 1077.5L733.7 1080.5L730.7 1083.5L727.8 1084.6ZM727.7 1080.5L730.7 1077.5L733.5 1076.4L736.5 1079.4L733.5 1082.4L730.7 1083.5ZM730.5 1079.4L733.5 1076.4L736.3 1075.1L739.3 1078.1L736.3 1081.1L733.5 1082.4ZM733.3 1078.1L736.3 1075.1L739.2 1073.8L742.2 1076.8L739.2 1079.8L736.3 1081.1ZM736.2 1076.8L739.2 1073.8L742 1072.5L745 1075.5L742 1078.5L739.2 1079.8ZM739 1075.5L742 1072.5L744.6 1071.2L747.6 1074.2L744.6 1077.2L742 1078.5ZM741.6 1074.2L744.6 1071.2L747.2 1069.9L750.2 1072.9L747.2 1075.9L744.6 1077.2ZM744.2 1072.9L747.2 1069.9L749.8 1068.4L752.8 1071.4L749.8 1074.4L747.2 1075.9ZM746.8 1071.4L749.8 1068.4L752.4 1067L755.4 1070L752.4 1073L749.8 1074.4ZM749.4 1070L752.4 1067L755 1065.5L758 1068.5L755 1071.5L752.4 1073ZM752 1068.5L755 1065.5L757.4 1064.1L760.4 1067.1L757.4 1070.1L755 1071.5ZM754.4 1067.1L757.4 1064.1L759.8 1062.8L762.8 1065.8L759.8 1068.8L757.4 1070.1ZM756.8 1065.8L759.8 1062.8L762.2 1061.4L765.2 1064.4L762.2 1067.4L759.8 1068.8ZM759.2 1064.4L762.2 1061.4L764.6 1060L767.6 1063L764.6 1066L762.2 1067.4ZM761.6 1063L764.6 1060L767 1058.5L770 1061.5L767 1064.5L764.6 1066ZM764 1061.5L767 1058.5L769.6 1056.9L772.6 1059.9L769.6 1062.9L767 1064.5ZM766.6 1059.9L769.6 1056.9L772.2 1055.3L775.2 1058.3L772.2 1061.3L769.6 1062.9ZM769.2 1058.3L772.2 1055.3L774.8 1053.6L777.8 1056.6L774.8 1059.6L772.2 1061.3ZM771.8 1056.6L774.8 1053.6L777.4 1051.8L780.4 1054.8L777.4 1057.8L774.8 1059.6ZM774.4 1054.8L777.4 1051.8L780 1050L783 1053L780 1056L777.4 1057.8ZM777 1053L780 1050L782.4 1048.2L785.4 1051.2L782.4 1054.2L780 1056ZM779.4 1051.2L782.4 1048.2L784.8 1046.3L787.8 1049.3L784.8 1052.3L782.4 1054.2ZM781.8 1049.3L784.8 1046.3L787.2 1044.3L790.2 1047.3L787.2 1050.3L784.8 1052.3ZM784.2 1047.3L787.2 1044.3L789.6 1042.2L792.6 1045.2L789.6 1048.2L787.2 1050.3ZM786.6 1045.2L789.6 1042.2L792 1040L795 1043L792 1046L789.6 1048.2ZM789 1043L792 1040L794.7 1037.5L797.7 1040.5L794.7 1043.5L792 1046ZM791.7 1040.5L797.3 1034.9L800.3 1037.9L794.7 1043.5ZM794.3 1037.9L797 1035L800 1032L803 1035L800.3 1037.9L797.3 1040.9ZM797 1035L799.5 1032L802.5 1029L805.5 1032L803 1035L800 1038ZM799.5 1032L802 1028.7L805 1025.7L808 1028.7L805.5 1032L802.5 1035ZM802 1028.7L804.5 1025.2L807.5 1022.2L810.5 1025.2L808 1028.7L805 1031.7ZM804.5 1025.2L807 1021.5L810 1018.5L813 1021.5L810.5 1025.2L807.5 1028.2ZM807 1021.5L809.5 1017.5L812.5 1014.5L815.5 1017.5L813 1021.5L810 1024.5ZM809.5 1017.5L812 1013.2L815 1010.2L818 1013.2L815.5 1017.5L812.5 1020.5ZM812 1013.2L814.5 1008.6L817.5 1005.6L820.5 1008.6L818 1013.2L815 1016.2ZM814.5 1008.6L817 1003.6L820 1000.6L823 1003.6L820.5 1008.6L817.5 1011.6ZM817 1003.6L819.5 998.2L822.5 995.2L825.5 998.2L823 1003.6L820 1006.6ZM819.5 998.2L822 992.5L825 989.5L828 992.5L825.5 998.2L822.5 1001.2ZM822 992.5L824.4 986.4L827.4 983.4L830.4 986.4L828 992.5L825 995.5ZM824.4 986.4L826.9 979.8L829.9 976.8L832.9 979.8L830.4 986.4L827.4 989.4ZM826.9 979.8L829.3 972.7L832.3 969.7L835.3 972.7L832.9 979.8L829.9 982.8ZM829.3 972.7L831.8 965.2L834.8 962.2L837.8 965.2L835.3 972.7L832.3 975.7ZM831.8 965.2L834.2 957.5L837.2 954.5L840.2 957.5L837.8 965.2L834.8 968.2ZM834.2 957.5L836.7 949.3L839.7 946.3L842.7 949.3L840.2 957.5L837.2 960.5ZM836.7 949.3L839.1 940.6L842.1 937.6L845.1 940.6L842.7 949.3L839.7 952.3ZM839.1 940.6L841.6 931.5L844.6 928.5L847.6 931.5L845.1 940.6L842.1 943.6ZM841.6 931.5L844 922.1L847 919.1L850 922.1L847.6 931.5L844.6 934.5ZM844 922.1L846.5 912.5L849.5 909.5L852.5 912.5L850 922.1L847 925.1ZM846.5 912.5L849.1 902.1L852.1 899.1L855.1 902.1L852.5 912.5L849.5 915.5ZM849.1 902.1L851.7 891.3L854.7 888.3L857.7 891.3L855.1 902.1L852.1 905.1ZM851.7 891.3L854.4 880.3L857.4 877.3L860.4 880.3L857.7 891.3L854.7 894.3ZM854.4 880.3L857 869L860 866L863 869L860.4 880.3L857.4 883.3ZM857 869L859.6 857.5L862.6 854.5L865.6 857.5L863 869L860 872ZM859.6 857.5L861.5 848.9L864.5 845.9L867.5 848.9L865.6 857.5L862.6 860.5ZM861.5 848.9L863.4 840L866.4 837L869.4 840L867.5 848.9L864.5 851.9ZM863.4 840L865.9 828.1L868.9 825.1L871.9 828.1L869.4 840L866.4 843ZM865.9 828.1L868.3 815.8L871.3 812.8L874.3 815.8L871.9 828.1L868.9 831.1ZM868.3 815.8L870.8 803.2L873.8 800.2L876.8 803.2L874.3 815.8L871.3 818.8ZM870.8 803.2L873.2 790L876.2 787L879.2 790L876.8 803.2L873.8 806.2ZM873.2 790L875.7 776.5L878.7 773.5L881.7 776.5L879.2 790L876.2 793ZM875.7 776.5L878.1 762.4L881.1 759.4L884.1 762.4L881.7 776.5L878.7 779.5ZM878.1 762.4L880.5 747.9L883.5 744.9L886.5 747.9L884.1 762.4L881.1 765.4ZM880.5 747.9L882.9 732.9L885.9 729.9L888.9 732.9L886.5 747.9L883.5 750.9ZM882.9 732.9L885.4 717.5L888.4 714.5L891.4 717.5L888.9 732.9L885.9 735.9ZM885.4 717.5L888 699.7L891 696.7L894 699.7L891.4 717.5L888.4 720.5ZM888 699.7L890.7 681.1L893.7 678.1L896.7 681.1L894 699.7L891 702.7ZM890.7 681.1L893.4 661.9L896.4 658.9L899.4 661.9L896.7 681.1L893.7 684.1ZM893.4 661.9L896.1 642.5L899.1 639.5L902.1 642.5L899.4 661.9L896.4 664.9ZM896.1 642.5L899 621L902 618L905 621L902.1 642.5L899.1 645.5ZM899 621L901.9 598.9L904.9 595.9L907.9 598.9L905 621L902 624ZM901.9 598.9L904.8 576.8L907.8 573.8L910.8 576.8L907.9 598.9L904.9 601.9ZM904.8 576.8L907.7 555L910.7 552L913.7 555L910.8 576.8L907.8 579.8ZM907.7 555L910.3 536.4L913.3 533.4L916.3 536.4L913.7 555L910.7 558ZM910.3 536.4L912.8 517.9L915.8 514.9L918.8 517.9L916.3 536.4L913.3 539.4ZM912.8 517.9L915.3 499.8L918.3 496.8L921.3 499.8L918.8 517.9L915.8 520.9ZM915.3 499.8L917.8 482.5L920.8 479.5L923.8 482.5L921.3 499.8L918.3 502.8ZM917.8 482.5L920.5 464.9L923.5 461.9L926.5 464.9L923.8 482.5L920.8 485.5ZM920.5 464.9L923.1 447.7L926.1 444.7L929.1 447.7L926.5 464.9L923.5 467.9ZM923.1 447.7L925.8 431.1L928.8 428.1L931.8 431.1L929.1 447.7L926.1 450.7ZM925.8 431.1L928.5 415.2L931.5 412.2L934.5 415.2L931.8 431.1L928.8 434.1ZM928.5 415.2L931.1 400L934.1 397L937.1 400L934.5 415.2L931.5 418.2ZM931.1 400L933.7 386.2L936.7 383.2L939.7 386.2L937.1 400L934.1 403ZM933.7 386.2L936.2 373L939.2 370L942.2 373L939.7 386.2L936.7 389.2ZM936.2 373L938.8 360.3L941.8 357.3L944.8 360.3L942.2 373L939.2 376ZM938.8 360.3L941.3 348L944.3 345L947.3 348L944.8 360.3L941.8 363.3ZM941.3 348L943.9 336L946.9 333L949.9 336L947.3 348L944.3 351ZM943.9 336L946.3 324.9L949.3 321.9L952.3 324.9L949.9 336L946.9 339ZM946.3 324.9L948.7 313.8L951.7 310.8L954.7 313.8L952.3 324.9L949.3 327.9ZM948.7 313.8L951.1 303.2L954.1 300.2L957.1 303.2L954.7 313.8L951.7 316.8ZM951.1 303.2L953.5 293.2L956.5 290.2L959.5 293.2L957.1 303.2L954.1 306.2ZM953.5 293.2L955.9 284.1L958.9 281.1L961.9 284.1L959.5 293.2L956.5 296.2ZM955.9 284.1L958.8 274.1L961.8 271.1L964.8 274.1L961.9 284.1L958.9 287.1ZM958.8 274.1L961.7 264.8L964.7 261.8L967.7 264.8L964.8 274.1L961.8 277.1ZM961.7 264.8L964.6 256.4L967.6 253.4L970.6 256.4L967.7 264.8L964.7 267.8ZM964.6 256.4L967.5 249.1L970.5 246.1L973.5 249.1L970.6 256.4L967.6 259.4ZM967.5 249.1L969.9 243.5L972.9 240.5L975.9 243.5L973.5 249.1L970.5 252.1ZM969.9 243.5L972.3 238.1L975.3 235.1L978.3 238.1L975.9 243.5L972.9 246.5ZM972.3 238.1L974.7 233.2L977.7 230.2L980.7 233.2L978.3 238.1L975.3 241.1ZM974.7 233.2L977.1 229.2L980.1 226.2L983.1 229.2L980.7 233.2L977.7 236.2ZM977.1 229.2L979.5 226.6L982.5 223.6L985.5 226.6L983.1 229.2L980.1 232.2ZM979.5 226.6L982.5 223.6L985 221.7L988 224.7L985 227.7L982.5 229.6ZM982 224.7L985 221.7L987.5 220.1L990.5 223.1L987.5 226.1L985 227.7ZM984.5 223.1L987.5 220.1L990 219L993 222L990 225L987.5 226.1ZM987 222L990 219L992.5 218.6L995.5 221.6L992.5 224.6L990 225ZM989.5 221.6L992.5 218.6L995.2 219.4L998.2 222.4L995.2 225.4L992.5 224.6ZM992.2 222.4L995.2 219.4L998 221.6L1001 224.6L998 227.6L995.2 225.4ZM995 224.6L998 221.6L1001 224.6L1003.8 227.5L1000.8 230.5L997.8 227.5ZM997.8 227.5L1000.8 224.5L1003.8 227.5L1006.5 230.6L1003.5 233.6L1000.5 230.6ZM1000.5 230.6L1003.5 227.6L1006.5 230.6L1008.9 233.8L1005.9 236.8L1002.9 233.8ZM1002.9 233.8L1005.9 230.8L1008.9 233.8L1011.3 237.8L1008.3 240.8L1005.3 237.8ZM1005.3 237.8L1008.3 234.8L1011.3 237.8L1013.7 242.2L1010.7 245.2L1007.7 242.2ZM1007.7 242.2L1010.7 239.2L1013.7 242.2L1016.1 247L1013.1 250L1010.1 247ZM1010.1 247L1013.1 244L1016.1 247L1018.5 251.6L1015.5 254.6L1012.5 251.6ZM1012.5 251.6L1015.5 248.6L1018.5 251.6L1021.2 256.6L1018.2 259.6L1015.2 256.6ZM1015.2 256.6L1018.2 253.6L1021.2 256.6L1023.8 261.8L1020.8 264.8L1017.8 261.8ZM1017.8 261.8L1020.8 258.8L1023.8 261.8L1026.5 267L1023.5 270L1020.5 267ZM1020.5 267L1023.5 264L1026.5 267L1029.2 272.5L1026.2 275.5L1023.2 272.5ZM1023.2 272.5L1026.2 269.5L1029.2 272.5L1031.8 278.2L1028.8 281.2L1025.8 278.2ZM1025.8 278.2L1028.8 275.2L1031.8 278.2L1034.5 284.1L1031.5 287.1L1028.5 284.1ZM1028.5 284.1L1031.5 281.1L1034.5 284.1L1037.2 290.6L1034.2 293.6L1031.2 290.6ZM1031.2 290.6L1034.2 287.6L1037.2 290.6L1039.9 297.6L1036.9 300.6L1033.9 297.6ZM1033.9 297.6L1036.9 294.6L1039.9 297.6L1042.6 304.8L1039.6 307.8L1036.6 304.8ZM1036.6 304.8L1039.6 301.8L1042.6 304.8L1045.3 311.9L1042.3 314.9L1039.3 311.9ZM1039.3 311.9L1042.3 308.9L1045.3 311.9L1048 318.8L1045 321.8L1042 318.8ZM1042 318.8L1045 315.8L1048 318.8L1050.5 324.9L1047.5 327.9L1044.5 324.9ZM1044.5 324.9L1047.5 321.9L1050.5 324.9L1053 331L1050 334L1047 331ZM1047 331L1050 328L1053 331L1055.5 336.9L1052.5 339.9L1049.5 336.9ZM1049.5 336.9L1052.5 333.9L1055.5 336.9L1058 342.7L1055 345.7L1052 342.7ZM1052 342.7L1055 339.7L1058 342.7L1060.5 348.3L1057.5 351.3L1054.5 348.3ZM1054.5 348.3L1057.5 345.3L1060.5 348.3L1063.2 354.2L1060.2 357.2L1057.2 354.2ZM1057.2 354.2L1060.2 351.2L1063.2 354.2L1066 359.8L1063 362.8L1060 359.8ZM1060 359.8L1063 356.8L1066 359.8L1068.8 365.2L1065.8 368.2L1062.8 365.2ZM1062.8 365.2L1065.8 362.2L1068.8 365.2L1071.5 370L1068.5 373L1065.5 370ZM1065.5 370L1068.5 367L1071.5 370L1073.9 373.2L1070.9 376.2L1067.9 373.2ZM1067.9 373.2L1070.9 370.2L1073.9 373.2L1076.4 376L1073.4 379L1070.4 376ZM1070.4 376L1073.4 373L1076.4 376L1078.8 378.6L1075.8 381.6L1072.8 378.6ZM1072.8 378.6L1075.8 375.6L1078.8 378.6L1081.7 381.8L1078.7 384.8L1075.7 381.8ZM1075.7 381.8L1078.7 378.8L1081.7 381.8L1084.5 384.9L1081.5 387.9L1078.5 384.9ZM1078.5 384.9L1081.5 381.9L1084.4 384.2L1087.4 387.2L1084.4 390.2L1081.5 387.9ZM1081.4 387.2L1084.4 384.2L1086.6 385.4L1089.6 388.4L1086.6 391.4L1084.4 390.2ZM1083.6 388.4L1086.6 385.4L1088.7 386.4L1091.7 389.4L1088.7 392.4L1086.6 391.4ZM1085.7 389.4L1088.7 386.4L1090.9 387.2L1093.9 390.2L1090.9 393.2L1088.7 392.4ZM1087.9 390.2L1090.9 387.2L1093 387.8L1096 390.8L1093 393.8L1090.9 393.2ZM1090 390.8L1093 387.8L1095.2 388.2L1098.2 391.2L1095.2 394.2L1093 393.8ZM1092.2 391.2L1095.2 388.2L1097.3 388.5L1100.3 391.5L1097.3 394.5L1095.2 394.2ZM1094.3 391.5L1097.3 388.5L1099.5 388.7L1102.5 391.7L1099.5 394.7L1097.3 394.5ZM1096.5 391.7L1099.5 388.7L1101.6 388.8L1104.6 391.8L1101.6 394.8L1099.5 394.7ZM1098.6 391.8L1101.6 388.8L1103.8 388.9L1106.8 391.9L1103.8 394.9L1101.6 394.8ZM1100.8 391.9L1103.8 388.9L1105.9 388.8L1108.9 391.8L1105.9 394.8L1103.8 394.9ZM1102.9 391.8L1105.9 388.8L1108.1 388.5L1111.1 391.5L1108.1 394.5L1105.9 394.8ZM1105.1 391.5L1108.1 388.5L1110.2 388.1L1113.2 391.1L1110.2 394.1L1108.1 394.5ZM1107.2 391.1L1110.2 388.1L1112.4 387.6L1115.4 390.6L1112.4 393.6L1110.2 394.1ZM1109.4 390.6L1112.4 387.6L1114.5 386.8L1117.5 389.8L1114.5 392.8L1112.4 393.6ZM1111.5 389.8L1114.5 386.8L1116.7 385.9L1119.7 388.9L1116.7 391.9L1114.5 392.8ZM1113.7 388.9L1116.7 385.9L1118.8 384.7L1121.8 387.7L1118.8 390.7L1116.7 391.9ZM1115.8 387.7L1118.8 384.7L1121 383L1124 386L1121 389L1118.8 390.7ZM1118 386L1121 383L1123.1 381.2L1126.1 384.2L1123.1 387.2L1121 389ZM1120.1 384.2L1123.1 381.2L1125.4 378.9L1128.4 381.9L1125.4 384.9L1123.1 387.2ZM1122.4 381.9L1124.7 379.3L1127.7 376.3L1130.7 379.3L1128.4 381.9L1125.4 384.9ZM1124.7 379.3L1127 376.5L1130 373.5L1133 376.5L1130.7 379.3L1127.7 382.3ZM1127 376.5L1129.5 372.7L1132.5 369.7L1135.5 372.7L1133 376.5L1130 379.5ZM1129.5 372.7L1132.1 368.6L1135.1 365.6L1138.1 368.6L1135.5 372.7L1132.5 375.7ZM1132.1 368.6L1134.6 365.6L1137.6 362.6L1140.6 365.6L1138.1 368.6L1135.1 371.6ZM1134.6 365.6L1137.6 362.6L1145.2 358.3L1148.2 361.3L1145.2 364.3L1137.6 368.6ZM1142.2 361.3L1148.6 348.4L1151.6 345.4L1154.6 348.4L1148.2 361.3L1145.2 364.3ZM1148.6 348.4L1151.6 345.4L1157 340L1160 343L1157 346L1151.6 351.4ZM1154 343L1157 340L1164.5 342.2L1167.5 345.2L1164.5 348.2L1157 346ZM1161.5 345.2L1167 338.6L1170 335.6L1173 338.6L1167.5 345.2L1164.5 348.2ZM1167 338.6L1181.3 316.2L1184.3 313.2L1187.3 316.2L1173 338.6L1170 341.6ZM1181.3 316.2L1184.3 313.2L1197.4 324.4L1200.4 327.4L1197.4 330.4L1184.3 319.2ZM1194.4 327.4L1197.4 324.4L1203.7 326.3L1206.7 329.3L1203.7 332.3L1197.4 330.4ZM1200.7 329.3L1203.7 326.3L1206.7 329.3L1215.4 342.4L1212.4 345.4L1209.4 342.4ZM1209.4 342.4L1212.4 339.4L1215.4 342.4L1222.9 359.8L1219.9 362.8L1216.9 359.8ZM1216.9 359.8L1219.9 356.8L1222.9 359.8L1230.4 377.3L1227.4 380.3L1224.4 377.3ZM1224.4 377.3L1227.4 374.3L1230.4 377.3L1237.9 396L1234.9 399L1231.9 396ZM1231.9 396L1234.9 393L1237.9 396L1244.1 414.7L1241.1 417.7L1238.1 414.7ZM1238.1 414.7L1241.1 411.7L1244.1 414.7L1250.3 432.2L1247.3 435.2L1244.3 432.2ZM1244.3 432.2L1247.3 429.2L1250.3 432.2L1254.1 442.2L1251.1 445.2L1248.1 442.2ZM1248.1 442.2L1251.1 439.2L1254.1 442.2L1257.8 452.1L1254.8 455.1L1251.8 452.1ZM1251.8 452.1L1254.8 449.1L1257.8 452.1L1259.7 460L1256.7 463L1253.7 460ZM1253.7 460L1256.7 457L1259.7 460L1265.5 482.5L1262.5 485.5L1259.5 482.5ZM1259.5 482.5L1262.5 479.5L1265.5 482.5L1278 517.5L1275 520.5L1272 517.5ZM1272 517.5L1275 514.5L1278 517.5L1293 562.5L1290 565.5L1287 562.5ZM1287 562.5L1290 559.5L1293 562.5L1308 605L1305 608L1302 605ZM1302 605L1305 602L1308 605L1323 645L1320 648L1317 645ZM1317 645L1320 642L1323 645L1338 675L1335 678L1332 675ZM1332 675L1335 672L1338 675L1348 690L1345 693L1342 690ZM1342 690L1345 687L1348 690L1363 713.8L1360 716.8L1357 713.8ZM1357 713.8L1360 710.8L1372.5 720.8L1375.5 723.8L1372.5 726.8L1360 716.8ZM1369.5 723.8L1372.5 720.8L1375.5 723.8L1388 740L1385 743L1382 740ZM1382 740L1385 737L1400.5 752.5L1397.5 755.5ZM1394.5 752.5L1397.5 749.5L1412.5 759.5L1415.5 762.5L1412.5 765.5L1397.5 755.5ZM1409.5 762.5L1412.5 759.5L1427.5 773.2L1430.5 776.2L1427.5 779.2L1412.5 765.5ZM1424.5 776.2L1427.5 773.2L1440 784L1443 787L1440 790L1427.5 779.2ZM1437 787L1440 784L1455 795.5L1458 798.5L1455 801.5L1440 790ZM1452 798.5L1455 795.5L1458 798.5L1468 810L1465 813L1462 810ZM1462 810L1465 807L1480 817L1483 820L1480 823L1465 813ZM1477 820L1480 817L1483 820L1498 836.2L1495 839.2L1492 836.2ZM1492 836.2L1495 833.2L1512.5 847L1515.5 850L1512.5 853L1495 839.2ZM1509.5 850L1512.5 847L1515.5 850L1528 866.2L1525 869.2L1522 866.2ZM1522 866.2L1525 863.2L1540 877L1543 880L1540 883L1525 869.2ZM1537 880L1540 877L1555.5 892.5L1552.5 895.5ZM1549.5 892.5L1552.5 889.5L1555.5 892.5L1563 903.8L1560 906.8L1557 903.8ZM1557 903.8L1560 900.8L1575 914.5L1578 917.5L1575 920.5L1560 906.8ZM1572 917.5L1575 914.5L1592.5 930.8L1595.5 933.8L1592.5 936.8L1575 920.5ZM1589.5 933.8L1592.5 930.8L1607.5 940.8L1610.5 943.8L1607.5 946.8L1592.5 936.8ZM1604.5 943.8L1607.5 940.8L1625 955.8L1628 958.8L1625 961.8L1607.5 946.8ZM1622 958.8L1625 955.8L1645 968.2L1648 971.2L1645 974.2L1625 961.8ZM1642 971.2L1645 968.2L1665 980.8L1668 983.8L1665 986.8L1645 974.2ZM1662 983.8L1665 980.8L1685 989.5L1688 992.5L1685 995.5L1665 986.8ZM1682 992.5L1685 989.5L1707.5 1000.8L1710.5 1003.8L1707.5 1006.8L1685 995.5ZM1704.5 1003.8L1707.5 1000.8L1730 1009.5L1733 1012.5L1730 1015.5L1707.5 1006.8ZM1727 1012.5L1730 1009.5L1750 1014.5L1753 1017.5L1750 1020.5L1730 1015.5ZM1747 1017.5L1750 1014.5L1772.5 1022L1775.5 1025L1772.5 1028L1750 1020.5ZM1769.5 1025L1772.5 1022L1775 1022.8L1778 1025.8L1775 1028.8L1772.5 1028Z" fill="#ff0000" fill-rule="nonzero" stroke="none" clip-path="url(#c470)"/>
<path d="M590.5 1101.6L593.5 1098.6L596 1098.6L599 1101.6L596 1104.6L593.5 1104.6ZM593 1101.6L596 1098.6L598.7 1098.6L601.7 1101.6L598.7 1104.6L596 1104.6ZM595.7 1101.6L598.7 1098.6L601.3 1098.5L604.3 1101.5L601.3 1104.5L598.7 1104.6ZM598.3 1101.5L601.3 1098.5L604 1098.5L607 1101.5L604 1104.5L601.3 1104.5ZM601 1101.5L604 1098.5L606.7 1098.4L609.7 1101.4L606.7 1104.4L604 1104.5ZM603.7 1101.4L606.7 1098.4L609.3 1098.3L612.3 1101.3L609.3 1104.3L606.7 1104.4ZM606.3 1101.3L609.3 1098.3L612 1098.2L615 1101.2L612 1104.2L609.3 1104.3ZM609 1101.2L612 1098.2L614.7 1098.1L617.7 1101.1L614.7 1104.1L612 1104.2ZM611.7 1101.1L614.7 1098.1L617.3 1098L620.3 1101L617.3 1104L614.7 1104.1ZM614.3 1101L617.3 1098L620 1097.9L623 1100.9L620 1103.9L617.3 1104ZM617 1100.9L620 1097.9L622.9 1097.8L625.9 1100.8L622.9 1103.8L620 1103.9ZM619.9 1100.8L622.9 1097.8L625.7 1097.7L628.7 1100.7L625.7 1103.7L622.9 1103.8ZM622.7 1100.7L625.7 1097.7L628.6 1097.6L631.6 1100.6L628.6 1103.6L625.7 1103.7ZM625.6 1100.6L628.6 1097.6L631.4 1097.5L634.4 1100.5L631.4 1103.5L628.6 1103.6ZM628.4 1100.5L631.4 1097.5L634.3 1097.4L637.3 1100.4L634.3 1103.4L631.4 1103.5ZM631.3 1100.4L634.3 1097.4L637.1 1097.3L640.1 1100.3L637.1 1103.3L634.3 1103.4ZM634.1 1100.3L637.1 1097.3L640 1097.2L643 1100.2L640 1103.2L637.1 1103.3ZM637 1100.2L640 1097.2L642.9 1097.1L645.9 1100.1L642.9 1103.1L640 1103.2ZM639.9 1100.1L642.9 1097.1L645.7 1096.9L648.7 1099.9L645.7 1102.9L642.9 1103.1ZM642.7 1099.9L645.7 1096.9L648.6 1096.7L651.6 1099.7L648.6 1102.7L645.7 1102.9ZM645.6 1099.7L648.6 1096.7L651.4 1096.5L654.4 1099.5L651.4 1102.5L648.6 1102.7ZM648.4 1099.5L651.4 1096.5L654.3 1096.3L657.3 1099.3L654.3 1102.3L651.4 1102.5ZM651.3 1099.3L654.3 1096.3L657.1 1096L660.1 1099L657.1 1102L654.3 1102.3ZM654.1 1099L657.1 1096L660 1095.8L663 1098.8L660 1101.8L657.1 1102ZM657 1098.8L660 1095.8L662.5 1095.6L665.5 1098.6L662.5 1101.6L660 1101.8ZM659.5 1098.6L662.5 1095.6L665 1095.3L668 1098.3L665 1101.3L662.5 1101.6ZM662 1098.3L665 1095.3L667.5 1095L670.5 1098L667.5 1101L665 1101.3ZM664.5 1098L667.5 1095L670 1094.7L673 1097.7L670 1100.7L667.5 1101ZM667 1097.7L670 1094.7L672.5 1094.3L675.5 1097.3L672.5 1100.3L670 1100.7ZM669.5 1097.3L672.5 1094.3L675 1094L678 1097L675 1100L672.5 1100.3ZM672 1097L675 1094L677.8 1093.6L680.8 1096.6L677.8 1099.6L675 1100ZM674.8 1096.6L677.8 1093.6L680.7 1093.2L683.7 1096.2L680.7 1099.2L677.8 1099.6ZM677.7 1096.2L680.7 1093.2L683.5 1092.7L686.5 1095.7L683.5 1098.7L680.7 1099.2ZM680.5 1095.7L683.5 1092.7L686.3 1092.2L689.3 1095.2L686.3 1098.2L683.5 1098.7ZM683.3 1095.2L686.3 1092.2L689.2 1091.6L692.2 1094.6L689.2 1097.6L686.3 1098.2ZM686.2 1094.6L689.2 1091.6L692 1091L695 1094L692 1097L689.2 1097.6ZM689 1094L692 1091L694.7 1090.3L697.7 1093.3L694.7 1096.3L692 1097ZM691.7 1093.3L694.7 1090.3L697.3 1089.4L700.3 1092.4L697.3 1095.4L694.7 1096.3ZM694.3 1092.4L697.3 1089.4L700 1088.5L703 1091.5L700 1094.5L697.3 1095.4ZM697 1091.5L700 1088.5L702.8 1087.5L705.8 1090.5L702.8 1093.5L700 1094.5ZM699.8 1090.5L702.8 1087.5L705.6 1086.5L708.6 1089.5L705.6 1092.5L702.8 1093.5ZM702.6 1089.5L705.6 1086.5L708.3 1085.5L711.3 1088.5L708.3 1091.5L705.6 1092.5ZM705.3 1088.5L708.3 1085.5L711.1 1084.4L714.1 1087.4L711.1 1090.4L708.3 1091.5ZM708.1 1087.4L711.1 1084.4L713.9 1083.3L716.9 1086.3L713.9 1089.3L711.1 1090.4ZM710.9 1086.3L713.9 1083.3L716.7 1082.1L719.7 1085.1L716.7 1088.1L713.9 1089.3ZM713.7 1085.1L716.7 1082.1L719.4 1080.8L722.4 1083.8L719.4 1086.8L716.7 1088.1ZM716.4 1083.8L719.4 1080.8L722.2 1079.4L725.2 1082.4L722.2 1085.4L719.4 1086.8ZM719.2 1082.4L722.2 1079.4L725 1078L728 1081L725 1084L722.2 1085.4ZM722 1081L725 1078L727.8 1076.4L730.8 1079.4L727.8 1082.4L725 1084ZM724.8 1079.4L727.8 1076.4L730.6 1074.7L733.6 1077.7L730.6 1080.7L727.8 1082.4ZM727.6 1077.7L730.6 1074.7L733.3 1072.9L736.3 1075.9L733.3 1078.9L730.6 1080.7ZM730.3 1075.9L733.3 1072.9L736.1 1070.9L739.1 1073.9L736.1 1076.9L733.3 1078.9ZM733.1 1073.9L736.1 1070.9L738.9 1068.8L741.9 1071.8L738.9 1074.8L736.1 1076.9ZM735.9 1071.8L738.9 1068.8L741.7 1066.6L744.7 1069.6L741.7 1072.6L738.9 1074.8ZM738.7 1069.6L741.7 1066.6L744.4 1064.3L747.4 1067.3L744.4 1070.3L741.7 1072.6ZM741.4 1067.3L744.4 1064.3L747.2 1061.9L750.2 1064.9L747.2 1067.9L744.4 1070.3ZM744.2 1064.9L747.2 1061.9L750 1059.5L753 1062.5L750 1065.5L747.2 1067.9ZM747 1062.5L750 1059.5L752.8 1057L755.8 1060L752.8 1063L750 1065.5ZM749.8 1060L752.8 1057L755.6 1054.3L758.6 1057.3L755.6 1060.3L752.8 1063ZM752.6 1057.3L755.3 1054.6L758.3 1051.6L761.3 1054.6L758.6 1057.3L755.6 1060.3ZM755.3 1054.6L758.1 1051.6L761.1 1048.6L764.1 1051.6L761.3 1054.6L758.3 1057.6ZM758.1 1051.6L760.9 1048.6L763.9 1045.6L766.9 1048.6L764.1 1051.6L761.1 1054.6ZM760.9 1048.6L763.7 1045.4L766.7 1042.4L769.7 1045.4L766.9 1048.6L763.9 1051.6ZM763.7 1045.4L766.4 1042.1L769.4 1039.1L772.4 1042.1L769.7 1045.4L766.7 1048.4ZM766.4 1042.1L769.2 1038.6L772.2 1035.6L775.2 1038.6L772.4 1042.1L769.4 1045.1ZM769.2 1038.6L772 1035L775 1032L778 1035L775.2 1038.6L772.2 1041.6ZM772 1035L774.5 1031.5L777.5 1028.5L780.5 1031.5L778 1035L775 1038ZM774.5 1031.5L777 1027.8L780 1024.8L783 1027.8L780.5 1031.5L777.5 1034.5ZM777 1027.8L779.5 1023.8L782.5 1020.8L785.5 1023.8L783 1027.8L780 1030.8ZM779.5 1023.8L782 1019.5L785 1016.5L788 1019.5L785.5 1023.8L782.5 1026.8ZM782 1019.5L784.5 1015L787.5 1012L790.5 1015L788 1019.5L785 1022.5ZM784.5 1015L787 1010.2L790 1007.2L793 1010.2L790.5 1015L787.5 1018ZM787 1010.2L789.5 1005.1L792.5 1002.1L795.5 1005.1L793 1010.2L790 1013.2ZM789.5 1005.1L792 999.7L795 996.7L798 999.7L795.5 1005.1L792.5 1008.1ZM792 999.7L794.5 993.8L797.5 990.8L800.5 993.8L798 999.7L795 1002.7ZM794.5 993.8L797 987.5L800 984.5L803 987.5L800.5 993.8L797.5 996.8ZM797 987.5L799.5 980.7L802.5 977.7L805.5 980.7L803 987.5L800 990.5ZM799.5 980.7L801.9 973.1L804.9 970.1L807.9 973.1L805.5 980.7L802.5 983.7ZM801.9 973.1L804.4 965L807.4 962L810.4 965L807.9 973.1L804.9 976.1ZM804.4 965L806.8 956.4L809.8 953.4L812.8 956.4L810.4 965L807.4 968ZM806.8 956.4L809.3 947.5L812.3 944.5L815.3 947.5L812.8 956.4L809.8 959.4ZM809.3 947.5L811.8 938L814.8 935L817.8 938L815.3 947.5L812.3 950.5ZM811.8 938L814.2 927.8L817.2 924.8L820.2 927.8L817.8 938L814.8 941ZM814.2 927.8L816.7 917.1L819.7 914.1L822.7 917.1L820.2 927.8L817.2 930.8ZM816.7 917.1L819.2 906.1L822.2 903.1L825.2 906.1L822.7 917.1L819.7 920.1ZM819.2 906.1L821.7 895L824.7 892L827.7 895L825.2 906.1L822.2 909.1ZM821.7 895L824.1 884.2L827.1 881.2L830.1 884.2L827.7 895L824.7 898ZM824.1 884.2L826.4 873.1L829.4 870.1L832.4 873.1L830.1 884.2L827.1 887.2ZM826.4 873.1L828.8 861.7L831.8 858.7L834.8 861.7L832.4 873.1L829.4 876.1ZM828.8 861.7L831.2 850L834.2 847L837.2 850L834.8 861.7L831.8 864.7ZM831.2 850L833.6 838L836.6 835L839.6 838L837.2 850L834.2 853ZM833.6 838L836 825.6L839 822.6L842 825.6L839.6 838L836.6 841ZM836 825.6L838.4 813L841.4 810L844.4 813L842 825.6L839 828.6ZM838.4 813L840.8 800L843.8 797L846.8 800L844.4 813L841.4 816ZM840.8 800L843.4 785.5L846.4 782.5L849.4 785.5L846.8 800L843.8 803ZM843.4 785.5L846 770.4L849 767.4L852 770.4L849.4 785.5L846.4 788.5ZM846 770.4L848.6 755L851.6 752L854.6 755L852 770.4L849 773.4ZM848.6 755L851.6 736.9L854.6 733.9L857.6 736.9L854.6 755L851.6 758ZM851.6 736.9L854.6 718.3L857.6 715.3L860.6 718.3L857.6 736.9L854.6 739.9ZM854.6 718.3L857.6 699.2L860.6 696.2L863.6 699.2L860.6 718.3L857.6 721.3ZM857.6 699.2L860.5 680L863.5 677L866.5 680L863.6 699.2L860.6 702.2ZM860.5 680L863.3 661.5L866.3 658.5L869.3 661.5L866.5 680L863.5 683ZM863.3 661.5L866.1 642.7L869.1 639.7L872.1 642.7L869.3 661.5L866.3 664.5ZM866.1 642.7L868.9 623.8L871.9 620.8L874.9 623.8L872.1 642.7L869.1 645.7ZM868.9 623.8L871.7 605L874.7 602L877.7 605L874.9 623.8L871.9 626.8ZM871.7 605L874.2 588.8L877.2 585.8L880.2 588.8L877.7 605L874.7 608ZM874.2 588.8L876.6 572.6L879.6 569.6L882.6 572.6L880.2 588.8L877.2 591.8ZM876.6 572.6L879 556.5L882 553.5L885 556.5L882.6 572.6L879.6 575.6ZM879 556.5L881.4 540.6L884.4 537.6L887.4 540.6L885 556.5L882 559.5ZM881.4 540.6L883.9 525L886.9 522L889.9 525L887.4 540.6L884.4 543.6ZM883.9 525L886.3 509.6L889.3 506.6L892.3 509.6L889.9 525L886.9 528ZM886.3 509.6L888.7 494.5L891.7 491.5L894.7 494.5L892.3 509.6L889.3 512.6ZM888.7 494.5L891.2 480L894.2 477L897.2 480L894.7 494.5L891.7 497.5ZM891.2 480L893.7 465.5L896.7 462.5L899.7 465.5L897.2 480L894.2 483ZM893.7 465.5L896.2 451.1L899.2 448.1L902.2 451.1L899.7 465.5L896.7 468.5ZM896.2 451.1L898.7 437.1L901.7 434.1L904.7 437.1L902.2 451.1L899.2 454.1ZM898.7 437.1L901.2 423.5L904.2 420.5L907.2 423.5L904.7 437.1L901.7 440.1ZM901.2 423.5L903.7 410.3L906.7 407.3L909.7 410.3L907.2 423.5L904.2 426.5ZM903.7 410.3L906.2 397.5L909.2 394.5L912.2 397.5L909.7 410.3L906.7 413.3ZM906.2 397.5L908.7 385.5L911.7 382.5L914.7 385.5L912.2 397.5L909.2 400.5ZM908.7 385.5L911.2 374L914.2 371L917.2 374L914.7 385.5L911.7 388.5ZM911.2 374L913.7 362.9L916.7 359.9L919.7 362.9L917.2 374L914.2 377ZM913.7 362.9L916.2 351.9L919.2 348.9L922.2 351.9L919.7 362.9L916.7 365.9ZM916.2 351.9L918.6 341L921.6 338L924.6 341L922.2 351.9L919.2 354.9ZM918.6 341L921.1 330L924.1 327L927.1 330L924.6 341L921.6 344ZM921.1 330L923.5 319L926.5 316L929.5 319L927.1 330L924.1 333ZM923.5 319L925.9 308.2L928.9 305.2L931.9 308.2L929.5 319L926.5 322ZM925.9 308.2L928.4 298L931.4 295L934.4 298L931.9 308.2L928.9 311.2ZM928.4 298L930.8 288.6L933.8 285.6L936.8 288.6L934.4 298L931.4 301ZM930.8 288.6L933.4 279.3L936.4 276.3L939.4 279.3L936.8 288.6L933.8 291.6ZM933.4 279.3L936 270.5L939 267.5L942 270.5L939.4 279.3L936.4 282.3ZM936 270.5L938.6 262.5L941.6 259.5L944.6 262.5L942 270.5L939 273.5ZM938.6 262.5L941.2 255.6L944.2 252.6L947.2 255.6L944.6 262.5L941.6 265.5ZM941.2 255.6L944 249.3L947 246.3L950 249.3L947.2 255.6L944.2 258.6ZM944 249.3L946.9 243.6L949.9 240.6L952.9 243.6L950 249.3L947 252.3ZM946.9 243.6L949.7 238.6L952.7 235.6L955.7 238.6L952.9 243.6L949.9 246.6ZM949.7 238.6L952.5 234.1L955.5 231.1L958.5 234.1L955.7 238.6L952.7 241.6ZM952.5 234.1L954.7 230.8L957.7 227.8L960.7 230.8L958.5 234.1L955.5 237.1ZM954.7 230.8L956.8 227.8L959.8 224.8L962.8 227.8L960.7 230.8L957.7 233.8ZM956.8 227.8L959.8 224.8L962 222.6L965 225.6L962 228.6L959.8 230.8ZM959 225.6L962 222.6L964.8 220.7L967.8 223.7L964.8 226.7L962 228.6ZM961.8 223.7L964.8 220.7L967.7 219.2L970.7 222.2L967.7 225.2L964.8 226.7ZM964.7 222.2L967.7 219.2L970.5 218.6L973.5 221.6L970.5 224.6L967.7 225.2ZM967.5 221.6L970.5 218.6L972.9 219L975.9 222L972.9 225L970.5 224.6ZM969.9 222L972.9 219L975.3 220.2L978.3 223.2L975.3 226.2L972.9 225ZM972.3 223.2L975.3 220.2L977.7 222L980.7 225L977.7 228L975.3 226.2ZM974.7 225L977.7 222L980.1 224L983.1 227L980.1 230L977.7 228ZM977.1 227L980.1 224L982.5 226.1L985.5 229.1L982.5 232.1L980.1 230ZM979.5 229.1L982.5 226.1L988 231.6L985 234.6ZM982 231.6L985 228.6L988 231.6L990.5 234.8L987.5 237.8L984.5 234.8ZM984.5 234.8L987.5 231.8L990.5 234.8L993 238.5L990 241.5L987 238.5ZM987 238.5L990 235.5L993 238.5L995.5 242.5L992.5 245.5L989.5 242.5ZM989.5 242.5L992.5 239.5L995.5 242.5L998 246.6L995 249.6L992 246.6ZM992 246.6L995 243.6L998 246.6L1000.5 251L997.5 254L994.5 251ZM994.5 251L997.5 248L1000.5 251L1003 255.7L1000 258.7L997 255.7ZM997 255.7L1000 252.7L1003 255.7L1005.5 260.8L1002.5 263.8L999.5 260.8ZM999.5 260.8L1002.5 257.8L1005.5 260.8L1008 266.2L1005 269.2L1002 266.2ZM1002 266.2L1005 263.2L1008 266.2L1010.5 271.6L1007.5 274.6L1004.5 271.6ZM1004.5 271.6L1007.5 268.6L1010.5 271.6L1013 277.2L1010 280.2L1007 277.2ZM1007 277.2L1010 274.2L1013 277.2L1015.5 283.1L1012.5 286.1L1009.5 283.1ZM1009.5 283.1L1012.5 280.1L1015.5 283.1L1018 289.2L1015 292.2L1012 289.2ZM1012 289.2L1015 286.2L1018 289.2L1020.5 295.4L1017.5 298.4L1014.5 295.4ZM1014.5 295.4L1017.5 292.4L1020.5 295.4L1023 301.6L1020 304.6L1017 301.6ZM1017 301.6L1020 298.6L1023 301.6L1025.5 307.9L1022.5 310.9L1019.5 307.9ZM1019.5 307.9L1022.5 304.9L1025.5 307.9L1028 314.4L1025 317.4L1022 314.4ZM1022 314.4L1025 311.4L1028 314.4L1030.5 320.9L1027.5 323.9L1024.5 320.9ZM1024.5 320.9L1027.5 317.9L1030.5 320.9L1033 327.3L1030 330.3L1027 327.3ZM1027 327.3L1030 324.3L1033 327.3L1035.5 333.6L1032.5 336.6L1029.5 333.6ZM1029.5 333.6L1032.5 330.6L1035.5 333.6L1038 339.8L1035 342.8L1032 339.8ZM1032 339.8L1035 336.8L1038 339.8L1040.5 346.1L1037.5 349.1L1034.5 346.1ZM1034.5 346.1L1037.5 343.1L1040.5 346.1L1043 352.3L1040 355.3L1037 352.3ZM1037 352.3L1040 349.3L1043 352.3L1045.5 358L1042.5 361L1039.5 358ZM1039.5 358L1042.5 355L1045.5 358L1048 363.1L1045 366.1L1042 363.1ZM1042 363.1L1045 360.1L1048 363.1L1050.5 367.7L1047.5 370.7L1044.5 367.7ZM1044.5 367.7L1047.5 364.7L1050.5 367.7L1053 371.9L1050 374.9L1047 371.9ZM1047 371.9L1050 368.9L1053 371.9L1055.5 375.9L1052.5 378.9L1049.5 375.9ZM1049.5 375.9L1052.5 372.9L1055.5 375.9L1058 379.4L1055 382.4L1052 379.4ZM1052 379.4L1055 376.4L1058 379.4L1060.5 382.5L1057.5 385.5L1054.5 382.5ZM1054.5 382.5L1057.5 379.5L1060.5 382.5L1063 385.4L1060 388.4L1057 385.4ZM1057 385.4L1060 382.4L1063 385.4L1065.5 388.1L1062.5 391.1L1059.5 388.1ZM1059.5 388.1L1062.5 385.1L1068 390.6L1065 393.6ZM1062 390.6L1065 387.6L1067.5 389.5L1070.5 392.5L1067.5 395.5L1065 393.6ZM1064.5 392.5L1067.5 389.5L1070 390.8L1073 393.8L1070 396.8L1067.5 395.5ZM1067 393.8L1070 390.8L1072.5 391.5L1075.5 394.5L1072.5 397.5L1070 396.8ZM1069.5 394.5L1072.5 391.5L1075 392.2L1078 395.2L1075 398.2L1072.5 397.5ZM1072 395.2L1075 392.2L1077.5 392.8L1080.5 395.8L1077.5 398.8L1075 398.2ZM1074.5 395.8L1077.5 392.8L1080 393.1L1083 396.1L1080 399.1L1077.5 398.8ZM1077 396.1L1080 393.1L1082.5 393.2L1085.5 396.2L1082.5 399.2L1080 399.1ZM1079.5 396.2L1082.5 393.2L1085 392.9L1088 395.9L1085 398.9L1082.5 399.2ZM1082 395.9L1085 392.9L1087.5 392.1L1090.5 395.1L1087.5 398.1L1085 398.9ZM1084.5 395.1L1087.5 392.1L1090 390.9L1093 393.9L1090 396.9L1087.5 398.1ZM1087 393.9L1090 390.9L1092.5 389.6L1095.5 392.6L1092.5 395.6L1090 396.9ZM1089.5 392.6L1092.5 389.6L1095 388.2L1098 391.2L1095 394.2L1092.5 395.6ZM1092 391.2L1095 388.2L1097.5 386.8L1100.5 389.8L1097.5 392.8L1095 394.2ZM1094.5 389.8L1097.5 386.8L1100 385.2L1103 388.2L1100 391.2L1097.5 392.8ZM1097 388.2L1100 385.2L1102.7 383.8L1105.7 386.8L1102.7 389.8L1100 391.2ZM1099.7 386.8L1102.7 383.8L1105.4 382.5L1108.4 385.5L1105.4 388.5L1102.7 389.8ZM1102.4 385.5L1105.4 382.5L1108.1 381.2L1111.1 384.2L1108.1 387.2L1105.4 388.5ZM1105.1 384.2L1108.1 381.2L1110.8 379.8L1113.8 382.8L1110.8 385.8L1108.1 387.2ZM1107.8 382.8L1110.8 379.8L1113.4 378.1L1116.4 381.1L1113.4 384.1L1110.8 385.8ZM1110.4 381.1L1113.4 378.1L1116.1 376.1L1119.1 379.1L1116.1 382.1L1113.4 384.1ZM1113.1 379.1L1116.1 376.1L1118.8 374.1L1121.8 377.1L1118.8 380.1L1116.1 382.1ZM1115.8 377.1L1118.8 374.1L1121.5 372.3L1124.5 375.3L1121.5 378.3L1118.8 380.1ZM1118.5 375.3L1121.5 372.3L1124.3 370.8L1127.3 373.8L1124.3 376.8L1121.5 378.3ZM1121.3 373.8L1124.3 370.8L1127.2 369.4L1130.2 372.4L1127.2 375.4L1124.3 376.8ZM1124.2 372.4L1127.2 369.4L1130 367.5L1133 370.5L1130 373.5L1127.2 375.4ZM1127 370.5L1129.5 367.1L1132.5 364.1L1135.5 367.1L1133 370.5L1130 373.5ZM1129.5 367.1L1132.1 362.8L1135.1 359.8L1138.1 362.8L1135.5 367.1L1132.5 370.1ZM1132.1 362.8L1134.6 360.2L1137.6 357.2L1140.6 360.2L1138.1 362.8L1135.1 365.8ZM1134.6 360.2L1137.6 357.2L1146.2 355.6L1149.2 358.6L1146.2 361.6L1137.6 363.2ZM1143.2 358.6L1148.6 352.7L1151.6 349.7L1154.6 352.7L1149.2 358.6L1146.2 361.6ZM1148.6 352.7L1151.6 349.7L1160.2 349.7L1163.2 352.7L1160.2 355.7L1151.6 355.7ZM1157.2 352.7L1160.2 349.7L1163.2 352.7L1167.5 359.1L1164.5 362.1L1161.5 359.1ZM1161.5 359.1L1164.5 356.1L1170 354.3L1173 357.3L1170 360.3L1164.5 362.1ZM1167 357.3L1170 354.3L1185 352.5L1188 355.5L1185 358.5L1170 360.3ZM1182 355.5L1185 352.5L1188 355.5L1193 369.8L1190 372.8L1187 369.8ZM1187 369.8L1190 366.8L1193 369.8L1200.4 384.8L1197.4 387.8L1194.4 384.8ZM1194.4 384.8L1197.4 381.8L1200.4 384.8L1207.9 397.3L1204.9 400.3L1201.9 397.3ZM1201.9 397.3L1204.9 394.3L1207.9 397.3L1214.2 412.2L1211.2 415.2L1208.2 412.2ZM1208.2 412.2L1211.2 409.2L1214.2 412.2L1220.4 427.2L1217.4 430.2L1214.4 427.2ZM1214.4 427.2L1217.4 424.2L1220.4 427.2L1225.4 442.2L1222.4 445.2L1219.4 442.2ZM1219.4 442.2L1222.4 439.2L1225.4 442.2L1229.1 460L1226.1 463L1223.1 460ZM1223.1 460L1226.1 457L1229.1 460L1236.8 480L1233.8 483L1230.8 480ZM1230.8 480L1233.8 477L1236.8 480L1248 517.5L1245 520.5L1242 517.5ZM1242 517.5L1245 514.5L1248 517.5L1258 550L1255 553L1252 550ZM1252 550L1255 547L1258 550L1268 585L1265 588L1262 585ZM1262 585L1265 582L1268 585L1280.5 622.5L1277.5 625.5L1274.5 622.5ZM1274.5 622.5L1277.5 619.5L1280.5 622.5L1291.8 652.5L1288.8 655.5L1285.8 652.5ZM1285.8 652.5L1288.8 649.5L1291.8 652.5L1305.5 680L1302.5 683L1299.5 680ZM1299.5 680L1302.5 677L1305.5 680L1318 707.5L1315 710.5L1312 707.5ZM1312 707.5L1315 704.5L1318 707.5L1330.5 730L1327.5 733L1324.5 730ZM1324.5 730L1327.5 727L1330.5 730L1343 750L1340 753L1337 750ZM1337 750L1340 747L1355.5 762.5L1352.5 765.5ZM1349.5 762.5L1352.5 759.5L1355.5 762.5L1368 777.5L1365 780.5L1362 777.5ZM1362 777.5L1365 774.5L1382.5 788.2L1385.5 791.2L1382.5 794.2L1365 780.5ZM1379.5 791.2L1382.5 788.2L1395 799.5L1398 802.5L1395 805.5L1382.5 794.2ZM1392 802.5L1395 799.5L1410 809.5L1413 812.5L1410 815.5L1395 805.5ZM1407 812.5L1410 809.5L1425 823.2L1428 826.2L1425 829.2L1410 815.5ZM1422 826.2L1425 823.2L1445 839.5L1448 842.5L1445 845.5L1425 829.2ZM1442 842.5L1445 839.5L1470 862L1473 865L1470 868L1445 845.5ZM1467 865L1470 862L1495 884.5L1498 887.5L1495 890.5L1470 868ZM1492 887.5L1495 884.5L1515.5 905L1512.5 908ZM1509.5 905L1512.5 902L1528 917.5L1525 920.5ZM1522 917.5L1525 914.5L1545 933.2L1548 936.2L1545 939.2L1525 920.5ZM1542 936.2L1545 933.2L1563 951.2L1560 954.2ZM1557 951.2L1560 948.2L1580 962L1583 965L1580 968L1560 954.2ZM1577 965L1580 962L1595 972L1598 975L1595 978L1580 968ZM1592 975L1595 972L1620 987L1623 990L1620 993L1595 978ZM1617 990L1620 987L1645 999.5L1648 1002.5L1645 1005.5L1620 993ZM1642 1002.5L1645 999.5L1670 1012L1673 1015L1670 1018L1645 1005.5ZM1667 1015L1670 1012L1695 1020.8L1698 1023.8L1695 1026.8L1670 1018ZM1692 1023.8L1695 1020.8L1720 1028.2L1723 1031.2L1720 1034.2L1695 1026.8ZM1717 1031.2L1720 1028.2L1745 1034.5L1748 1037.5L1745 1040.5L1720 1034.2ZM1742 1037.5L1745 1034.5L1762.5 1039L1765.5 1042L1762.5 1045L1745 1040.5ZM1759.5 1042L1762.5 1039L1772.5 1040L1775.5 1043L1772.5 1046L1762.5 1045ZM1769.5 1043L1772.5 1040L1775 1040.2L1778 1043.2L1775 1046.2L1772.5 1046Z" fill="#ffa500" fill-rule="nonzero" stroke="none" clip-path="url(#c500)"/>
<path d="M590.5 1102.8L593.5 1099.8L596 1099.8L599 1102.8L596 1105.8L593.5 1105.8ZM593 1102.8L596 1099.8L598.8 1099.8L601.8 1102.8L598.8 1105.8L596 1105.8ZM595.8 1102.8L598.8 1099.8L601.7 1099.8L604.7 1102.8L601.7 1105.8L598.8 1105.8ZM598.7 1102.8L601.7 1099.8L604.5 1099.8L607.5 1102.8L604.5 1105.8L601.7 1105.8ZM601.5 1102.8L604.5 1099.8L607.3 1099.8L610.3 1102.8L607.3 1105.8L604.5 1105.8ZM604.3 1102.8L607.3 1099.8L610.2 1099.8L613.2 1102.8L610.2 1105.8L607.3 1105.8ZM607.2 1102.8L610.2 1099.8L613 1099.8L616 1102.8L613 1105.8L610.2 1105.8ZM610 1102.8L613 1099.8L615.8 1099.8L618.8 1102.8L615.8 1105.8L613 1105.8ZM612.8 1102.8L615.8 1099.8L618.7 1099.8L621.7 1102.8L618.7 1105.8L615.8 1105.8ZM615.7 1102.8L618.7 1099.8L621.5 1099.8L624.5 1102.8L621.5 1105.8L618.7 1105.8ZM618.5 1102.8L621.5 1099.8L624.3 1099.8L627.3 1102.8L624.3 1105.8L621.5 1105.8ZM621.3 1102.8L624.3 1099.8L627.2 1099.8L630.2 1102.8L627.2 1105.8L624.3 1105.8ZM624.2 1102.8L627.2 1099.8L630 1099.8L633 1102.8L630 1105.8L627.2 1105.8ZM627 1102.8L630 1099.8L632.7 1099.8L635.7 1102.8L632.7 1105.8L630 1105.8ZM629.7 1102.8L632.7 1099.8L635.5 1099.8L638.5 1102.8L635.5 1105.8L632.7 1105.8ZM632.5 1102.8L635.5 1099.8L638.2 1099.8L641.2 1102.8L638.2 1105.8L635.5 1105.8ZM635.2 1102.8L638.2 1099.8L640.9 1099.8L643.9 1102.8L640.9 1105.8L638.2 1105.8ZM637.9 1102.8L640.9 1099.8L643.6 1099.9L646.6 1102.9L643.6 1105.9L640.9 1105.8ZM640.6 1102.9L643.6 1099.9L646.4 1099.9L649.4 1102.9L646.4 1105.9L643.6 1105.9ZM643.4 1102.9L646.4 1099.9L649.1 1099.9L652.1 1102.9L649.1 1105.9L646.4 1105.9ZM646.1 1102.9L649.1 1099.9L651.8 1099.9L654.8 1102.9L651.8 1105.9L649.1 1105.9ZM648.8 1102.9L651.8 1099.9L654.5 1099.9L657.5 1102.9L654.5 1105.9L651.8 1105.9ZM651.5 1102.9L654.5 1099.9L657.3 1100L660.3 1103L657.3 1106L654.5 1105.9ZM654.3 1103L657.3 1100L660 1100L663 1103L660 1106L657.3 1106ZM657 1103L660 1100L662.7 1100L665.7 1103L662.7 1106L660 1106ZM659.7 1103L662.7 1100L665.5 1100.1L668.5 1103.1L665.5 1106.1L662.7 1106ZM662.5 1103.1L665.5 1100.1L668.2 1100.1L671.2 1103.1L668.2 1106.1L665.5 1106.1ZM665.2 1103.1L668.2 1100.1L670.9 1100.2L673.9 1103.2L670.9 1106.2L668.2 1106.1ZM667.9 1103.2L670.9 1100.2L673.6 1100.2L676.6 1103.2L673.6 1106.2L670.9 1106.2ZM670.6 1103.2L673.6 1100.2L676.4 1100.3L679.4 1103.3L676.4 1106.3L673.6 1106.2ZM673.4 1103.3L676.4 1100.3L679.1 1100.4L682.1 1103.4L679.1 1106.4L676.4 1106.3ZM676.1 1103.4L679.1 1100.4L681.8 1100.4L684.8 1103.4L681.8 1106.4L679.1 1106.4ZM678.8 1103.4L681.8 1100.4L684.5 1100.5L687.5 1103.5L684.5 1106.5L681.8 1106.4ZM681.5 1103.5L684.5 1100.5L687.3 1100.6L690.3 1103.6L687.3 1106.6L684.5 1106.5ZM684.3 1103.6L687.3 1100.6L690 1100.6L693 1103.6L690 1106.6L687.3 1106.6ZM687 1103.6L690 1100.6L692.7 1100.6L695.7 1103.6L692.7 1106.6L690 1106.6ZM689.7 1103.6L692.7 1100.6L695.5 1100.7L698.5 1103.7L695.5 1106.7L692.7 1106.6ZM692.5 1103.7L695.5 1100.7L698.2 1100.7L701.2 1103.7L698.2 1106.7L695.5 1106.7ZM695.2 1103.7L698.2 1100.7L700.9 1100.8L703.9 1103.8L700.9 1106.8L698.2 1106.7ZM697.9 1103.8L700.9 1100.8L703.6 1100.8L706.6 1103.8L703.6 1106.8L700.9 1106.8ZM700.6 1103.8L703.6 1100.8L706.4 1100.9L709.4 1103.9L706.4 1106.9L703.6 1106.8ZM703.4 1103.9L706.4 1100.9L709.1 1100.9L712.1 1103.9L709.1 1106.9L706.4 1106.9ZM706.1 1103.9L709.1 1100.9L711.8 1101L714.8 1104L711.8 1107L709.1 1106.9ZM708.8 1104L711.8 1101L714.5 1101L717.5 1104L714.5 1107L711.8 1107ZM711.5 1104L714.5 1101L717.3 1101L720.3 1104L717.3 1107L714.5 1107ZM714.3 1104L717.3 1101L720 1101L723 1104L720 1107L717.3 1107ZM717 1104L720 1101L722.7 1101L725.7 1104L722.7 1107L720 1107ZM719.7 1104L722.7 1101L725.5 1101L728.5 1104L725.5 1107L722.7 1107ZM722.5 1104L725.5 1101L728.2 1101L731.2 1104L728.2 1107L725.5 1107ZM725.2 1104L728.2 1101L730.9 1100.9L733.9 1103.9L730.9 1106.9L728.2 1107ZM727.9 1103.9L730.9 1100.9L733.6 1100.9L736.6 1103.9L733.6 1106.9L730.9 1106.9ZM730.6 1103.9L733.6 1100.9L736.4 1100.9L739.4 1103.9L736.4 1106.9L733.6 1106.9ZM733.4 1103.9L736.4 1100.9L739.1 1100.8L742.1 1103.8L739.1 1106.8L736.4 1106.9ZM736.1 1103.8L739.1 1100.8L741.8 1100.8L744.8 1103.8L741.8 1106.8L739.1 1106.8ZM738.8 1103.8L741.8 1100.8L744.5 1100.7L747.5 1103.7L744.5 1106.7L741.8 1106.8ZM741.5 1103.7L744.5 1100.7L747.3 1100.7L750.3 1103.7L747.3 1106.7L744.5 1106.7ZM744.3 1103.7L747.3 1100.7L750 1100.6L753 1103.6L750 1106.6L747.3 1106.7ZM747 1103.6L750 1100.6L752.8 1100.5L755.8 1103.5L752.8 1106.5L750 1106.6ZM749.8 1103.5L752.8 1100.5L755.6 1100.4L758.6 1103.4L755.6 1106.4L752.8 1106.5ZM752.6 1103.4L755.6 1100.4L758.3 1100.3L761.3 1103.3L758.3 1106.3L755.6 1106.4ZM755.3 1103.3L758.3 1100.3L761.1 1100.1L764.1 1103.1L761.1 1106.1L758.3 1106.3ZM758.1 1103.1L761.1 1100.1L763.9 1099.9L766.9 1102.9L763.9 1105.9L761.1 1106.1ZM760.9 1102.9L763.9 1099.9L766.7 1099.7L769.7 1102.7L766.7 1105.7L763.9 1105.9ZM763.7 1102.7L766.7 1099.7L769.4 1099.5L772.4 1102.5L769.4 1105.5L766.7 1105.7ZM766.4 1102.5L769.4 1099.5L772.2 1099.2L775.2 1102.2L772.2 1105.2L769.4 1105.5ZM769.2 1102.2L772.2 1099.2L775 1099L778 1102L775 1105L772.2 1105.2ZM772 1102L775 1099L777.8 1098.8L780.8 1101.8L777.8 1104.8L775 1105ZM774.8 1101.8L777.8 1098.8L780.6 1098.5L783.6 1101.5L780.6 1104.5L777.8 1104.8ZM777.6 1101.5L780.6 1098.5L783.3 1098.2L786.3 1101.2L783.3 1104.2L780.6 1104.5ZM780.3 1101.2L783.3 1098.2L786.1 1097.9L789.1 1100.9L786.1 1103.9L783.3 1104.2ZM783.1 1100.9L786.1 1097.9L788.9 1097.5L791.9 1100.5L788.9 1103.5L786.1 1103.9ZM785.9 1100.5L788.9 1097.5L791.7 1097.2L794.7 1100.2L791.7 1103.2L788.9 1103.5ZM788.7 1100.2L791.7 1097.2L794.4 1096.8L797.4 1099.8L794.4 1102.8L791.7 1103.2ZM791.4 1099.8L794.4 1096.8L797.2 1096.4L800.2 1099.4L797.2 1102.4L794.4 1102.8ZM794.2 1099.4L797.2 1096.4L800 1096L803 1099L800 1102L797.2 1102.4ZM797 1099L800 1096L802.8 1095.6L805.8 1098.6L802.8 1101.6L800 1102ZM799.8 1098.6L802.8 1095.6L805.6 1095.1L808.6 1098.1L805.6 1101.1L802.8 1101.6ZM802.6 1098.1L805.6 1095.1L808.3 1094.6L811.3 1097.6L808.3 1100.6L805.6 1101.1ZM805.3 1097.6L808.3 1094.6L811.1 1094L814.1 1097L811.1 1100L808.3 1100.6ZM808.1 1097L811.1 1094L813.9 1093.4L816.9 1096.4L813.9 1099.4L811.1 1100ZM810.9 1096.4L813.9 1093.4L816.7 1092.8L819.7 1095.8L816.7 1098.8L813.9 1099.4ZM813.7 1095.8L816.7 1092.8L819.4 1092.2L822.4 1095.2L819.4 1098.2L816.7 1098.8ZM816.4 1095.2L819.4 1092.2L822.2 1091.5L825.2 1094.5L822.2 1097.5L819.4 1098.2ZM819.2 1094.5L822.2 1091.5L825 1090.8L828 1093.8L825 1096.8L822.2 1097.5ZM822 1093.8L825 1090.8L827.8 1090L830.8 1093L827.8 1096L825 1096.8ZM824.8 1093L827.8 1090L830.6 1089.2L833.6 1092.2L830.6 1095.2L827.8 1096ZM827.6 1092.2L830.6 1089.2L833.3 1088.3L836.3 1091.3L833.3 1094.3L830.6 1095.2ZM830.3 1091.3L833.3 1088.3L836.1 1087.3L839.1 1090.3L836.1 1093.3L833.3 1094.3ZM833.1 1090.3L836.1 1087.3L838.9 1086.3L841.9 1089.3L838.9 1092.3L836.1 1093.3ZM835.9 1089.3L838.9 1086.3L841.7 1085.3L844.7 1088.3L841.7 1091.3L838.9 1092.3ZM838.7 1088.3L841.7 1085.3L844.4 1084.2L847.4 1087.2L844.4 1090.2L841.7 1091.3ZM841.4 1087.2L844.4 1084.2L847.2 1083.1L850.2 1086.1L847.2 1089.1L844.4 1090.2ZM844.2 1086.1L847.2 1083.1L850 1082L853 1085L850 1088L847.2 1089.1ZM847 1085L850 1082L852.5 1081L855.5 1084L852.5 1087L850 1088ZM849.5 1084L852.5 1081L855 1079.9L858 1082.9L855 1085.9L852.5 1087ZM852 1082.9L855 1079.9L857.5 1078.8L860.5 1081.8L857.5 1084.8L855 1085.9ZM854.5 1081.8L857.5 1078.8L860 1077.5L863 1080.5L860 1083.5L857.5 1084.8ZM857 1080.5L860 1077.5L862.5 1076.1L865.5 1079.1L862.5 1082.1L860 1083.5ZM859.5 1079.1L862.5 1076.1L865 1074.5L868 1077.5L865 1080.5L862.5 1082.1ZM862 1077.5L865 1074.5L867.5 1072.7L870.5 1075.7L867.5 1078.7L865 1080.5ZM864.5 1075.7L867.5 1072.7L870 1070.9L873 1073.9L870 1076.9L867.5 1078.7ZM867 1073.9L870 1070.9L872.5 1069L875.5 1072L872.5 1075L870 1076.9ZM869.5 1072L872.5 1069L875 1067L878 1070L875 1073L872.5 1075ZM872 1070L875 1067L877.5 1065L880.5 1068L877.5 1071L875 1073ZM874.5 1068L877.5 1065L880 1062.9L883 1065.9L880 1068.9L877.5 1071ZM877 1065.9L880 1062.9L882.5 1060.6L885.5 1063.6L882.5 1066.6L880 1068.9ZM879.5 1063.6L882.5 1060.6L885 1058.3L888 1061.3L885 1064.3L882.5 1066.6ZM882 1061.3L884.5 1058.7L887.5 1055.7L890.5 1058.7L888 1061.3L885 1064.3ZM884.5 1058.7L887 1056L890 1053L893 1056L890.5 1058.7L887.5 1061.7ZM887 1056L889.5 1053L892.5 1050L895.5 1053L893 1056L890 1059ZM889.5 1053L892 1049.6L895 1046.6L898 1049.6L895.5 1053L892.5 1056ZM892 1049.6L894.5 1046L897.5 1043L900.5 1046L898 1049.6L895 1052.6ZM894.5 1046L897 1042.2L900 1039.2L903 1042.2L900.5 1046L897.5 1049ZM897 1042.2L899.5 1038.2L902.5 1035.2L905.5 1038.2L903 1042.2L900 1045.2ZM899.5 1038.2L902 1034L905 1031L908 1034L905.5 1038.2L902.5 1041.2ZM902 1034L904.5 1029.8L907.5 1026.8L910.5 1029.8L908 1034L905 1037ZM904.5 1029.8L906.9 1025.3L909.9 1022.3L912.9 1025.3L910.5 1029.8L907.5 1032.8ZM906.9 1025.3L909.4 1020.6L912.4 1017.6L915.4 1020.6L912.9 1025.3L909.9 1028.3ZM909.4 1020.6L911.8 1015.5L914.8 1012.5L917.8 1015.5L915.4 1020.6L912.4 1023.6ZM911.8 1015.5L914.3 1010L917.3 1007L920.3 1010L917.8 1015.5L914.8 1018.5ZM914.3 1010L916.7 1004L919.7 1001L922.7 1004L920.3 1010L917.3 1013ZM916.7 1004L919 997.3L922 994.3L925 997.3L922.7 1004L919.7 1007ZM919 997.3L921.4 990.2L924.4 987.2L927.4 990.2L925 997.3L922 1000.3ZM921.4 990.2L923.8 983L926.8 980L929.8 983L927.4 990.2L924.4 993.2ZM923.8 983L926.1 976L929.1 973L932.1 976L929.8 983L926.8 986ZM926.1 976L928.4 968.9L931.4 965.9L934.4 968.9L932.1 976L929.1 979ZM928.4 968.9L930.7 961.5L933.7 958.5L936.7 961.5L934.4 968.9L931.4 971.9ZM930.7 961.5L933 954L936 951L939 954L936.7 961.5L933.7 964.5ZM933 954L935.7 945.1L938.7 942.1L941.7 945.1L939 954L936 957ZM935.7 945.1L938.3 936L941.3 933L944.3 936L941.7 945.1L938.7 948.1ZM938.3 936L941 926.7L944 923.7L947 926.7L944.3 936L941.3 939ZM941 926.7L943.6 917L946.6 914L949.6 917L947 926.7L944 929.7ZM943.6 917L946.3 906.8L949.3 903.8L952.3 906.8L949.6 917L946.6 920ZM946.3 906.8L949 896.1L952 893.1L955 896.1L952.3 906.8L949.3 909.8ZM949 896.1L951.7 885L954.7 882L957.7 885L955 896.1L952 899.1ZM951.7 885L954.6 872.6L957.6 869.6L960.6 872.6L957.7 885L954.7 888ZM954.6 872.6L957.5 859.6L960.5 856.6L963.5 859.6L960.6 872.6L957.6 875.6ZM957.5 859.6L960.4 846L963.4 843L966.4 846L963.5 859.6L960.5 862.6ZM960.4 846L963 833.2L966 830.2L969 833.2L966.4 846L963.4 849ZM963 833.2L965.5 819.8L968.5 816.8L971.5 819.8L969 833.2L966 836.2ZM965.5 819.8L968.1 806L971.1 803L974.1 806L971.5 819.8L968.5 822.8ZM968.1 806L970.3 794.3L973.3 791.3L976.3 794.3L974.1 806L971.1 809ZM970.3 794.3L972.4 782L975.4 779L978.4 782L976.3 794.3L973.3 797.3ZM972.4 782L975 766.5L978 763.5L981 766.5L978.4 782L975.4 785ZM975 766.5L977.6 750.5L980.6 747.5L983.6 750.5L981 766.5L978 769.5ZM977.6 750.5L980.2 734.1L983.2 731.1L986.2 734.1L983.6 750.5L980.6 753.5ZM980.2 734.1L982.8 717.3L985.8 714.3L988.8 717.3L986.2 734.1L983.2 737.1ZM982.8 717.3L985.4 700L988.4 697L991.4 700L988.8 717.3L985.8 720.3ZM985.4 700L988.2 680.3L991.2 677.3L994.2 680.3L991.4 700L988.4 703ZM988.2 680.3L991.1 659.8L994.1 656.8L997.1 659.8L994.2 680.3L991.2 683.3ZM991.1 659.8L993.9 638.9L996.9 635.9L999.9 638.9L997.1 659.8L994.1 662.8ZM993.9 638.9L996.7 618L999.7 615L1002.7 618L999.9 638.9L996.9 641.9ZM996.7 618L999.2 599.9L1002.2 596.9L1005.2 599.9L1002.7 618L999.7 621ZM999.2 599.9L1001.6 581.6L1004.6 578.6L1007.6 581.6L1005.2 599.9L1002.2 602.9ZM1001.6 581.6L1004.1 563.1L1007.1 560.1L1010.1 563.1L1007.6 581.6L1004.6 584.6ZM1004.1 563.1L1006.5 544.9L1009.5 541.9L1012.5 544.9L1010.1 563.1L1007.1 566.1ZM1006.5 544.9L1008.9 527L1011.9 524L1014.9 527L1012.5 544.9L1009.5 547.9ZM1008.9 527L1011.8 506.2L1014.8 503.2L1017.8 506.2L1014.9 527L1011.9 530ZM1011.8 506.2L1014.7 485.8L1017.7 482.8L1020.7 485.8L1017.8 506.2L1014.8 509.2ZM1014.7 485.8L1017.6 466L1020.6 463L1023.6 466L1020.7 485.8L1017.7 488.8ZM1017.6 466L1020.5 446.6L1023.5 443.6L1026.5 446.6L1023.6 466L1020.6 469ZM1020.5 446.6L1023.5 427.9L1026.5 424.9L1029.5 427.9L1026.5 446.6L1023.5 449.6ZM1023.5 427.9L1026.4 410L1029.4 407L1032.4 410L1029.5 427.9L1026.5 430.9ZM1026.4 410L1029.1 394.5L1032.1 391.5L1035.1 394.5L1032.4 410L1029.4 413ZM1029.1 394.5L1031.8 379.6L1034.8 376.6L1037.8 379.6L1035.1 394.5L1032.1 397.5ZM1031.8 379.6L1034.4 365.2L1037.4 362.2L1040.4 365.2L1037.8 379.6L1034.8 382.6ZM1034.4 365.2L1037.1 351.3L1040.1 348.3L1043.1 351.3L1040.4 365.2L1037.4 368.2ZM1037.1 351.3L1040 336.7L1043 333.7L1046 336.7L1043.1 351.3L1040.1 354.3ZM1040 336.7L1042.9 322.6L1045.9 319.6L1048.9 322.6L1046 336.7L1043 339.7ZM1042.9 322.6L1045.8 309L1048.8 306L1051.8 309L1048.9 322.6L1045.9 325.6ZM1045.8 309L1048.2 298L1051.2 295L1054.2 298L1051.8 309L1048.8 312ZM1048.2 298L1050.7 287.3L1053.7 284.3L1056.7 287.3L1054.2 298L1051.2 301ZM1050.7 287.3L1053.1 276.9L1056.1 273.9L1059.1 276.9L1056.7 287.3L1053.7 290.3ZM1053.1 276.9L1055.8 265.1L1058.8 262.1L1061.8 265.1L1059.1 276.9L1056.1 279.9ZM1055.8 265.1L1058.4 253.7L1061.4 250.7L1064.4 253.7L1061.8 265.1L1058.8 268.1ZM1058.4 253.7L1061.1 244.6L1064.1 241.6L1067.1 244.6L1064.4 253.7L1061.4 256.7ZM1061.1 244.6L1063.4 238.6L1066.4 235.6L1069.4 238.6L1067.1 244.6L1064.1 247.6ZM1063.4 238.6L1065.7 233.5L1068.7 230.5L1071.7 233.5L1069.4 238.6L1066.4 241.6ZM1065.7 233.5L1068 230.1L1071 227.1L1074 230.1L1071.7 233.5L1068.7 236.5ZM1068 230.1L1071 227.1L1073.8 224.4L1076.8 227.4L1073.8 230.4L1071 233.1ZM1070.8 227.4L1073.8 224.4L1076.7 222.4L1079.7 225.4L1076.7 228.4L1073.8 230.4ZM1073.7 225.4L1076.7 222.4L1079.5 221.6L1082.5 224.6L1079.5 227.6L1076.7 228.4ZM1076.5 224.6L1079.5 221.6L1082.1 221.9L1085.1 224.9L1082.1 227.9L1079.5 227.6ZM1079.1 224.9L1082.1 221.9L1084.8 222.7L1087.8 225.7L1084.8 228.7L1082.1 227.9ZM1081.8 225.7L1084.8 222.7L1087.4 223.8L1090.4 226.8L1087.4 229.8L1084.8 228.7ZM1084.4 226.8L1087.4 223.8L1090 225.1L1093 228.1L1090 231.1L1087.4 229.8ZM1087 228.1L1090 225.1L1092.1 226.5L1095.1 229.5L1092.1 232.5L1090 231.1ZM1089.1 229.5L1092.1 226.5L1094.2 228.5L1097.2 231.5L1094.2 234.5L1092.1 232.5ZM1091.2 231.5L1094.2 228.5L1097.2 231.5L1099.3 233.9L1096.3 236.9L1093.3 233.9ZM1093.3 233.9L1096.3 230.9L1099.3 233.9L1101.9 238L1098.9 241L1095.9 238ZM1095.9 238L1098.9 235L1101.9 238L1104.4 243.2L1101.4 246.2L1098.4 243.2ZM1098.4 243.2L1101.4 240.2L1104.4 243.2L1107 248.6L1104 251.6L1101 248.6ZM1101 248.6L1104 245.6L1107 248.6L1109.8 254.3L1106.8 257.3L1103.8 254.3ZM1103.8 254.3L1106.8 251.3L1109.8 254.3L1112.7 260.1L1109.7 263.1L1106.7 260.1ZM1106.7 260.1L1109.7 257.1L1112.7 260.1L1115.5 266.1L1112.5 269.1L1109.5 266.1ZM1109.5 266.1L1112.5 263.1L1115.5 266.1L1118 271.5L1115 274.5L1112 271.5ZM1112 271.5L1115 268.5L1118 271.5L1120.5 277L1117.5 280L1114.5 277ZM1114.5 277L1117.5 274L1120.5 277L1123 282.6L1120 285.6L1117 282.6ZM1117 282.6L1120 279.6L1123 282.6L1125.7 288.8L1122.7 291.8L1119.7 288.8ZM1119.7 288.8L1122.7 285.8L1125.7 288.8L1128.3 295.2L1125.3 298.2L1122.3 295.2ZM1122.3 295.2L1125.3 292.2L1128.3 295.2L1131 301.6L1128 304.6L1125 301.6ZM1125 301.6L1128 298.6L1131 301.6L1139.6 322.8L1136.6 325.8L1133.6 322.8ZM1133.6 322.8L1136.6 319.8L1139.6 322.8L1146 343L1143 346L1140 343ZM1140 343L1143 340L1146 343L1152.5 355.9L1149.5 358.9L1146.5 355.9ZM1146.5 355.9L1149.5 352.9L1152.5 355.9L1158.9 368.8L1155.9 371.8L1152.9 368.8ZM1152.9 368.8L1155.9 365.8L1158.9 368.8L1164.3 386L1161.3 389L1158.3 386ZM1158.3 386L1161.3 383L1164.3 386L1168.6 400L1165.6 403L1162.6 400ZM1162.6 400L1165.6 397L1168.6 400L1173 407.2L1170 410.2L1167 407.2ZM1167 407.2L1170 404.2L1173 407.2L1181.7 417.2L1178.7 420.2L1175.7 417.2ZM1175.7 417.2L1178.7 414.2L1186.2 416.1L1189.2 419.1L1186.2 422.1L1178.7 420.2ZM1183.2 419.1L1186.2 416.1L1189.2 419.1L1194.2 429.7L1191.2 432.7L1188.2 429.7ZM1188.2 429.7L1191.2 426.7L1194.2 429.7L1201.7 438.4L1198.7 441.4L1195.7 438.4ZM1195.7 438.4L1198.7 435.4L1207.4 440.4L1210.4 443.4L1207.4 446.4L1198.7 441.4ZM1204.4 443.4L1207.4 440.4L1219.9 445.4L1222.9 448.4L1219.9 451.4L1207.4 446.4ZM1216.9 448.4L1219.9 445.4L1241.1 445.4L1244.1 448.4L1241.1 451.4L1219.9 451.4ZM1238.1 448.4L1241.1 445.4L1251.1 440.4L1254.1 443.4L1251.1 446.4L1241.1 451.4ZM1248.1 443.4L1251.1 440.4L1263.6 436.7L1266.6 439.7L1263.6 442.7L1251.1 446.4ZM1260.6 439.7L1263.6 436.7L1269.8 433.5L1272.8 436.5L1269.8 439.5L1263.6 442.7ZM1266.8 436.5L1269.8 433.5L1276 430.4L1279 433.4L1276 436.4L1269.8 439.5ZM1273 433.4L1276 430.4L1292.2 430.4L1295.2 433.4L1292.2 436.4L1276 436.4ZM1289.2 433.4L1292.2 430.4L1299.7 436.7L1302.7 439.7L1299.7 442.7L1292.2 436.4ZM1296.7 439.7L1299.7 436.7L1306 437.9L1309 440.9L1306 443.9L1299.7 442.7ZM1303 440.9L1306 437.9L1309 440.9L1316.4 449.6L1313.4 452.6L1310.4 449.6ZM1310.4 449.6L1313.4 446.6L1323.9 457.1L1320.9 460.1ZM1317.9 457.1L1320.9 454.1L1323.9 457.1L1326.4 460L1323.4 463L1320.4 460ZM1320.4 460L1323.4 457L1326.4 460L1328 465L1325 468L1322 465ZM1322 465L1325 462L1328 465L1338 480L1335 483L1332 480ZM1332 480L1335 477L1338 480L1345.5 490L1342.5 493L1339.5 490ZM1339.5 490L1342.5 487L1345.5 490L1353 505L1350 508L1347 505ZM1347 505L1350 502L1353 505L1363 527.5L1360 530.5L1357 527.5ZM1357 527.5L1360 524.5L1363 527.5L1375.5 555L1372.5 558L1369.5 555ZM1369.5 555L1372.5 552L1375.5 555L1388 582.5L1385 585.5L1382 582.5ZM1382 582.5L1385 579.5L1388 582.5L1400.5 612.5L1397.5 615.5L1394.5 612.5ZM1394.5 612.5L1397.5 609.5L1400.5 612.5L1413 637.5L1410 640.5L1407 637.5ZM1407 637.5L1410 634.5L1413 637.5L1425.5 660L1422.5 663L1419.5 660ZM1419.5 660L1422.5 657L1425.5 660L1435.5 682.5L1432.5 685.5L1429.5 682.5ZM1429.5 682.5L1432.5 679.5L1435.5 682.5L1445.5 700L1442.5 703L1439.5 700ZM1439.5 700L1442.5 697L1445.5 700L1455.5 720L1452.5 723L1449.5 720ZM1449.5 720L1452.5 717L1455.5 720L1468 737.5L1465 740.5L1462 737.5ZM1462 737.5L1465 734.5L1468 737.5L1480.5 755L1477.5 758L1474.5 755ZM1474.5 755L1477.5 752L1480.5 755L1495.5 775L1492.5 778L1489.5 775ZM1489.5 775L1492.5 772L1502.5 778.2L1505.5 781.2L1502.5 784.2L1492.5 778ZM1499.5 781.2L1502.5 778.2L1505.5 781.2L1515.5 792.5L1512.5 795.5L1509.5 792.5ZM1509.5 792.5L1512.5 789.5L1527.5 800.8L1530.5 803.8L1527.5 806.8L1512.5 795.5ZM1524.5 803.8L1527.5 800.8L1545 814.5L1548 817.5L1545 820.5L1527.5 806.8ZM1542 817.5L1545 814.5L1565 828.2L1568 831.2L1565 834.2L1545 820.5ZM1562 831.2L1565 828.2L1582.5 839.5L1585.5 842.5L1582.5 845.5L1565 834.2ZM1579.5 842.5L1582.5 839.5L1595 844.5L1598 847.5L1595 850.5L1582.5 845.5ZM1592 847.5L1595 844.5L1607.5 853.2L1610.5 856.2L1607.5 859.2L1595 850.5ZM1604.5 856.2L1607.5 853.2L1620 862L1623 865L1620 868L1607.5 859.2ZM1617 865L1620 862L1635 875.8L1638 878.8L1635 881.8L1620 868ZM1632 878.8L1635 875.8L1650 884.5L1653 887.5L1650 890.5L1635 881.8ZM1647 887.5L1650 884.5L1668 902.5L1665 905.5ZM1662 902.5L1665 899.5L1682.5 914.5L1685.5 917.5L1682.5 920.5L1665 905.5ZM1679.5 917.5L1682.5 914.5L1700 929.5L1703 932.5L1700 935.5L1682.5 920.5ZM1697 932.5L1700 929.5L1715 942L1718 945L1715 948L1700 935.5ZM1712 945L1715 942L1732.5 954.5L1735.5 957.5L1732.5 960.5L1715 948ZM1729.5 957.5L1732.5 954.5L1750 965.8L1753 968.8L1750 971.8L1732.5 960.5ZM1747 968.8L1750 965.8L1772.5 978.2L1775.5 981.2L1772.5 984.2L1750 971.8ZM1769.5 981.2L1772.5 978.2L1775 979.6L1778 982.6L1775 985.6L1772.5 984.2Z" fill="#00cc00" fill-rule="nonzero" stroke="none" clip-path="url(#c500)"/>
<path d="M590.5 1106L593.5 1103L596 1103L599 1106L596 1109L593.5 1109ZM593 1106L596 1103L598.8 1103L601.8 1106L598.8 1109L596 1109ZM595.8 1106L598.8 1103L601.7 1103L604.7 1106L601.7 1109L598.8 1109ZM598.7 1106L601.7 1103L604.5 1103L607.5 1106L604.5 1109L601.7 1109ZM601.5 1106L604.5 1103L607.4 1103L610.4 1106L607.4 1109L604.5 1109ZM604.4 1106L607.4 1103L610.2 1103L613.2 1106L610.2 1109L607.4 1109ZM607.2 1106L610.2 1103L613.1 1103L616.1 1106L613.1 1109L610.2 1109ZM610.1 1106L613.1 1103L615.9 1103L618.9 1106L615.9 1109L613.1 1109ZM612.9 1106L615.9 1103L618.7 1103L621.7 1106L618.7 1109L615.9 1109ZM615.7 1106L618.7 1103L621.6 1103L624.6 1106L621.6 1109L618.7 1109ZM618.6 1106L621.6 1103L624.4 1103L627.4 1106L624.4 1109L621.6 1109ZM621.4 1106L624.4 1103L627.3 1103L630.3 1106L627.3 1109L624.4 1109ZM624.3 1106L627.3 1103L630.1 1103L633.1 1106L630.1 1109L627.3 1109ZM627.1 1106L630.1 1103L632.9 1102.9L635.9 1105.9L632.9 1108.9L630.1 1109ZM629.9 1105.9L632.9 1102.9L635.8 1102.9L638.8 1105.9L635.8 1108.9L632.9 1108.9ZM632.8 1105.9L635.8 1102.9L638.6 1102.9L641.6 1105.9L638.6 1108.9L635.8 1108.9ZM635.6 1105.9L638.6 1102.9L641.5 1102.9L644.5 1105.9L641.5 1108.9L638.6 1108.9ZM638.5 1105.9L641.5 1102.9L644.3 1102.9L647.3 1105.9L644.3 1108.9L641.5 1108.9ZM641.3 1105.9L644.3 1102.9L647.2 1102.9L650.2 1105.9L647.2 1108.9L644.3 1108.9ZM644.2 1105.9L647.2 1102.9L650 1102.9L653 1105.9L650 1108.9L647.2 1108.9ZM647 1105.9L650 1102.9L652.9 1102.9L655.9 1105.9L652.9 1108.9L650 1108.9ZM649.9 1105.9L652.9 1102.9L655.9 1102.9L658.9 1105.9L655.9 1108.9L652.9 1108.9ZM652.9 1105.9L655.9 1102.9L658.8 1102.9L661.8 1105.9L658.8 1108.9L655.9 1108.9ZM655.8 1105.9L658.8 1102.9L661.8 1102.8L664.8 1105.8L661.8 1108.8L658.8 1108.9ZM658.8 1105.8L661.8 1102.8L664.7 1102.8L667.7 1105.8L664.7 1108.8L661.8 1108.8ZM661.7 1105.8L664.7 1102.8L667.6 1102.8L670.6 1105.8L667.6 1108.8L664.7 1108.8ZM664.6 1105.8L667.6 1102.8L670.6 1102.8L673.6 1105.8L670.6 1108.8L667.6 1108.8ZM667.6 1105.8L670.6 1102.8L673.5 1102.8L676.5 1105.8L673.5 1108.8L670.6 1108.8ZM670.5 1105.8L673.5 1102.8L676.5 1102.7L679.5 1105.7L676.5 1108.7L673.5 1108.8ZM673.5 1105.7L676.5 1102.7L679.4 1102.7L682.4 1105.7L679.4 1108.7L676.5 1108.7ZM676.4 1105.7L679.4 1102.7L682.4 1102.7L685.4 1105.7L682.4 1108.7L679.4 1108.7ZM679.4 1105.7L682.4 1102.7L685.3 1102.7L688.3 1105.7L685.3 1108.7L682.4 1108.7ZM682.3 1105.7L685.3 1102.7L688.2 1102.6L691.2 1105.6L688.2 1108.6L685.3 1108.7ZM685.2 1105.6L688.2 1102.6L691.2 1102.6L694.2 1105.6L691.2 1108.6L688.2 1108.6ZM688.2 1105.6L691.2 1102.6L694.1 1102.6L697.1 1105.6L694.1 1108.6L691.2 1108.6ZM691.1 1105.6L694.1 1102.6L697.1 1102.5L700.1 1105.5L697.1 1108.5L694.1 1108.6ZM694.1 1105.5L697.1 1102.5L700 1102.5L703 1105.5L700 1108.5L697.1 1108.5ZM697 1105.5L700 1102.5L702.9 1102.5L705.9 1105.5L702.9 1108.5L700 1108.5ZM699.9 1105.5L702.9 1102.5L705.9 1102.4L708.9 1105.4L705.9 1108.4L702.9 1108.5ZM702.9 1105.4L705.9 1102.4L708.8 1102.4L711.8 1105.4L708.8 1108.4L705.9 1108.4ZM705.8 1105.4L708.8 1102.4L711.8 1102.3L714.8 1105.3L711.8 1108.3L708.8 1108.4ZM708.8 1105.3L711.8 1102.3L714.7 1102.3L717.7 1105.3L714.7 1108.3L711.8 1108.3ZM711.7 1105.3L714.7 1102.3L717.6 1102.2L720.6 1105.2L717.6 1108.2L714.7 1108.3ZM714.6 1105.2L717.6 1102.2L720.6 1102.1L723.6 1105.1L720.6 1108.1L717.6 1108.2ZM717.6 1105.1L720.6 1102.1L723.5 1102.1L726.5 1105.1L723.5 1108.1L720.6 1108.1ZM720.5 1105.1L723.5 1102.1L726.5 1102L729.5 1105L726.5 1108L723.5 1108.1ZM723.5 1105L726.5 1102L729.4 1101.9L732.4 1104.9L729.4 1107.9L726.5 1108ZM726.4 1104.9L729.4 1101.9L732.4 1101.8L735.4 1104.8L732.4 1107.8L729.4 1107.9ZM729.4 1104.8L732.4 1101.8L735.3 1101.7L738.3 1104.7L735.3 1107.7L732.4 1107.8ZM732.3 1104.7L735.3 1101.7L738.2 1101.6L741.2 1104.6L738.2 1107.6L735.3 1107.7ZM735.2 1104.6L738.2 1101.6L741.2 1101.5L744.2 1104.5L741.2 1107.5L738.2 1107.6ZM738.2 1104.5L741.2 1101.5L744.1 1101.4L747.1 1104.4L744.1 1107.4L741.2 1107.5ZM741.1 1104.4L744.1 1101.4L747.1 1101.3L750.1 1104.3L747.1 1107.3L744.1 1107.4ZM744.1 1104.3L747.1 1101.3L750 1101.2L753 1104.2L750 1107.2L747.1 1107.3ZM747 1104.2L750 1101.2L752.8 1101.1L755.8 1104.1L752.8 1107.1L750 1107.2ZM749.8 1104.1L752.8 1101.1L755.6 1100.9L758.6 1103.9L755.6 1106.9L752.8 1107.1ZM752.6 1103.9L755.6 1100.9L758.3 1100.7L761.3 1103.7L758.3 1106.7L755.6 1106.9ZM755.3 1103.7L758.3 1100.7L761.1 1100.5L764.1 1103.5L761.1 1106.5L758.3 1106.7ZM758.1 1103.5L761.1 1100.5L763.9 1100.2L766.9 1103.2L763.9 1106.2L761.1 1106.5ZM760.9 1103.2L763.9 1100.2L766.7 1100L769.7 1103L766.7 1106L763.9 1106.2ZM763.7 1103L766.7 1100L769.4 1099.7L772.4 1102.7L769.4 1105.7L766.7 1106ZM766.4 1102.7L769.4 1099.7L772.2 1099.5L775.2 1102.5L772.2 1105.5L769.4 1105.7ZM769.2 1102.5L772.2 1099.5L775 1099.2L778 1102.2L775 1105.2L772.2 1105.5ZM772 1102.2L775 1099.2L777.8 1098.9L780.8 1101.9L777.8 1104.9L775 1105.2ZM774.8 1101.9L777.8 1098.9L780.6 1098.6L783.6 1101.6L780.6 1104.6L777.8 1104.9ZM777.6 1101.6L780.6 1098.6L783.3 1098.3L786.3 1101.3L783.3 1104.3L780.6 1104.6ZM780.3 1101.3L783.3 1098.3L786.1 1098L789.1 1101L786.1 1104L783.3 1104.3ZM783.1 1101L786.1 1098L788.9 1097.7L791.9 1100.7L788.9 1103.7L786.1 1104ZM785.9 1100.7L788.9 1097.7L791.7 1097.4L794.7 1100.4L791.7 1103.4L788.9 1103.7ZM788.7 1100.4L791.7 1097.4L794.4 1097L797.4 1100L794.4 1103L791.7 1103.4ZM791.4 1100L794.4 1097L797.2 1096.6L800.2 1099.6L797.2 1102.6L794.4 1103ZM794.2 1099.6L797.2 1096.6L800 1096.2L803 1099.2L800 1102.2L797.2 1102.6ZM797 1099.2L800 1096.2L802.8 1095.8L805.8 1098.8L802.8 1101.8L800 1102.2ZM799.8 1098.8L802.8 1095.8L805.6 1095.3L808.6 1098.3L805.6 1101.3L802.8 1101.8ZM802.6 1098.3L805.6 1095.3L808.3 1094.8L811.3 1097.8L808.3 1100.8L805.6 1101.3ZM805.3 1097.8L808.3 1094.8L811.1 1094.2L814.1 1097.2L811.1 1100.2L808.3 1100.8ZM808.1 1097.2L811.1 1094.2L813.9 1093.7L816.9 1096.7L813.9 1099.7L811.1 1100.2ZM810.9 1096.7L813.9 1093.7L816.7 1093L819.7 1096L816.7 1099L813.9 1099.7ZM813.7 1096L816.7 1093L819.4 1092.4L822.4 1095.4L819.4 1098.4L816.7 1099ZM816.4 1095.4L819.4 1092.4L822.2 1091.7L825.2 1094.7L822.2 1097.7L819.4 1098.4ZM819.2 1094.7L822.2 1091.7L825 1091L828 1094L825 1097L822.2 1097.7ZM822 1094L825 1091L827.8 1090.2L830.8 1093.2L827.8 1096.2L825 1097ZM824.8 1093.2L827.8 1090.2L830.6 1089.4L833.6 1092.4L830.6 1095.4L827.8 1096.2ZM827.6 1092.4L830.6 1089.4L833.3 1088.5L836.3 1091.5L833.3 1094.5L830.6 1095.4ZM830.3 1091.5L833.3 1088.5L836.1 1087.5L839.1 1090.5L836.1 1093.5L833.3 1094.5ZM833.1 1090.5L836.1 1087.5L838.9 1086.5L841.9 1089.5L838.9 1092.5L836.1 1093.5ZM835.9 1089.5L838.9 1086.5L841.7 1085.4L844.7 1088.4L841.7 1091.4L838.9 1092.5ZM838.7 1088.4L841.7 1085.4L844.4 1084.3L847.4 1087.3L844.4 1090.3L841.7 1091.4ZM841.4 1087.3L844.4 1084.3L847.2 1083.2L850.2 1086.2L847.2 1089.2L844.4 1090.3ZM844.2 1086.2L847.2 1083.2L850 1082L853 1085L850 1088L847.2 1089.2ZM847 1085L850 1082L852.5 1080.9L855.5 1083.9L852.5 1086.9L850 1088ZM849.5 1083.9L852.5 1080.9L855 1079.7L858 1082.7L855 1085.7L852.5 1086.9ZM852 1082.7L855 1079.7L857.5 1078.4L860.5 1081.4L857.5 1084.4L855 1085.7ZM854.5 1081.4L857.5 1078.4L860 1077L863 1080L860 1083L857.5 1084.4ZM857 1080L860 1077L862.5 1075.5L865.5 1078.5L862.5 1081.5L860 1083ZM859.5 1078.5L862.5 1075.5L865 1073.9L868 1076.9L865 1079.9L862.5 1081.5ZM862 1076.9L865 1073.9L867.5 1072.2L870.5 1075.2L867.5 1078.2L865 1079.9ZM864.5 1075.2L867.5 1072.2L870 1070.4L873 1073.4L870 1076.4L867.5 1078.2ZM867 1073.4L870 1070.4L872.5 1068.5L875.5 1071.5L872.5 1074.5L870 1076.4ZM869.5 1071.5L872.5 1068.5L875 1066.5L878 1069.5L875 1072.5L872.5 1074.5ZM872 1069.5L875 1066.5L877.5 1064.4L880.5 1067.4L877.5 1070.4L875 1072.5ZM874.5 1067.4L877.5 1064.4L880 1062.2L883 1065.2L880 1068.2L877.5 1070.4ZM877 1065.2L880 1062.2L882.5 1059.9L885.5 1062.9L882.5 1065.9L880 1068.2ZM879.5 1062.9L882.5 1059.9L885 1057.5L888 1060.5L885 1063.5L882.5 1065.9ZM882 1060.5L884.5 1057.8L887.5 1054.8L890.5 1057.8L888 1060.5L885 1063.5ZM884.5 1057.8L887 1055L890 1052L893 1055L890.5 1057.8L887.5 1060.8ZM887 1055L889.5 1051.9L892.5 1048.9L895.5 1051.9L893 1055L890 1058ZM889.5 1051.9L892 1048.5L895 1045.5L898 1048.5L895.5 1051.9L892.5 1054.9ZM892 1048.5L894.5 1044.8L897.5 1041.8L900.5 1044.8L898 1048.5L895 1051.5ZM894.5 1044.8L897 1040.9L900 1037.9L903 1040.9L900.5 1044.8L897.5 1047.8ZM897 1040.9L899.5 1036.8L902.5 1033.8L905.5 1036.8L903 1040.9L900 1043.9ZM899.5 1036.8L902 1032.5L905 1029.5L908 1032.5L905.5 1036.8L902.5 1039.8ZM902 1032.5L904.4 1028.1L907.4 1025.1L910.4 1028.1L908 1032.5L905 1035.5ZM904.4 1028.1L906.9 1023.4L909.9 1020.4L912.9 1023.4L910.4 1028.1L907.4 1031.1ZM906.9 1023.4L909.3 1018.5L912.3 1015.5L915.3 1018.5L912.9 1023.4L909.9 1026.4ZM909.3 1018.5L911.8 1013.2L914.8 1010.2L917.8 1013.2L915.3 1018.5L912.3 1021.5ZM911.8 1013.2L914.2 1007.5L917.2 1004.5L920.2 1007.5L917.8 1013.2L914.8 1016.2ZM914.2 1007.5L916.6 1001.3L919.6 998.3L922.6 1001.3L920.2 1007.5L917.2 1010.5ZM916.6 1001.3L919.1 994.5L922.1 991.5L925.1 994.5L922.6 1001.3L919.6 1004.3ZM919.1 994.5L921.5 987.3L924.5 984.3L927.5 987.3L925.1 994.5L922.1 997.5ZM921.5 987.3L923.9 980L926.9 977L929.9 980L927.5 987.3L924.5 990.3ZM923.9 980L926.3 972.8L929.3 969.8L932.3 972.8L929.9 980L926.9 983ZM926.3 972.8L928.7 965.4L931.7 962.4L934.7 965.4L932.3 972.8L929.3 975.8ZM928.7 965.4L931.1 957.8L934.1 954.8L937.1 957.8L934.7 965.4L931.7 968.4ZM931.1 957.8L933.5 950L936.5 947L939.5 950L937.1 957.8L934.1 960.8ZM933.5 950L936.1 941.1L939.1 938.1L942.1 941.1L939.5 950L936.5 953ZM936.1 941.1L938.8 931.9L941.8 928.9L944.8 931.9L942.1 941.1L939.1 944.1ZM938.8 931.9L941.4 922.4L944.4 919.4L947.4 922.4L944.8 931.9L941.8 934.9ZM941.4 922.4L944.1 912.5L947.1 909.5L950.1 912.5L947.4 922.4L944.4 925.4ZM944.1 912.5L946.7 902.2L949.7 899.2L952.7 902.2L950.1 912.5L947.1 915.5ZM946.7 902.2L949.4 891.3L952.4 888.3L955.4 891.3L952.7 902.2L949.7 905.2ZM949.4 891.3L952.1 880L955.1 877L958.1 880L955.4 891.3L952.4 894.3ZM952.1 880L954.9 867.3L957.9 864.3L960.9 867.3L958.1 880L955.1 883ZM954.9 867.3L957.8 854L960.8 851L963.8 854L960.9 867.3L957.9 870.3ZM957.8 854L960.7 840L963.7 837L966.7 840L963.8 854L960.8 857ZM960.7 840L963.2 827.2L966.2 824.2L969.2 827.2L966.7 840L963.7 843ZM963.2 827.2L965.7 813.8L968.7 810.8L971.7 813.8L969.2 827.2L966.2 830.2ZM965.7 813.8L968.1 800L971.1 797L974.1 800L971.7 813.8L968.7 816.8ZM968.1 800L970.3 787.8L973.3 784.8L976.3 787.8L974.1 800L971.1 803ZM970.3 787.8L972.4 775L975.4 772L978.4 775L976.3 787.8L973.3 790.8ZM972.4 775L974.9 759.3L977.9 756.3L980.9 759.3L978.4 775L975.4 778ZM974.9 759.3L977.4 743.3L980.4 740.3L983.4 743.3L980.9 759.3L977.9 762.3ZM977.4 743.3L979.9 726.8L982.9 723.8L985.9 726.8L983.4 743.3L980.4 746.3ZM979.9 726.8L982.5 709.8L985.5 706.8L988.5 709.8L985.9 726.8L982.9 729.8ZM982.5 709.8L985 692.5L988 689.5L991 692.5L988.5 709.8L985.5 712.8ZM985 692.5L987.8 672.6L990.8 669.6L993.8 672.6L991 692.5L988 695.5ZM987.8 672.6L990.5 652L993.5 649L996.5 652L993.8 672.6L990.8 675.6ZM990.5 652L993.3 631.1L996.3 628.1L999.3 631.1L996.5 652L993.5 655ZM993.3 631.1L996.1 610L999.1 607L1002.1 610L999.3 631.1L996.3 634.1ZM996.1 610L998.5 591.6L1001.5 588.6L1004.5 591.6L1002.1 610L999.1 613ZM998.5 591.6L1000.9 573L1003.9 570L1006.9 573L1004.5 591.6L1001.5 594.6ZM1000.9 573L1003.3 554.3L1006.3 551.3L1009.3 554.3L1006.9 573L1003.9 576ZM1003.3 554.3L1005.7 535.7L1008.7 532.7L1011.7 535.7L1009.3 554.3L1006.3 557.3ZM1005.7 535.7L1008.1 517.5L1011.1 514.5L1014.1 517.5L1011.7 535.7L1008.7 538.7ZM1008.1 517.5L1011 496.1L1014 493.1L1017 496.1L1014.1 517.5L1011.1 520.5ZM1011 496.1L1013.8 475.1L1016.8 472.1L1019.8 475.1L1017 496.1L1014 499.1ZM1013.8 475.1L1016.7 455L1019.7 452L1022.7 455L1019.8 475.1L1016.8 478.1ZM1016.7 455L1019.6 435.5L1022.6 432.5L1025.6 435.5L1022.7 455L1019.7 458ZM1019.6 435.5L1022.5 416.5L1025.5 413.5L1028.5 416.5L1025.6 435.5L1022.6 438.5ZM1022.5 416.5L1025.4 398.1L1028.4 395.1L1031.4 398.1L1028.5 416.5L1025.5 419.5ZM1025.4 398.1L1028.3 380.3L1031.3 377.3L1034.3 380.3L1031.4 398.1L1028.4 401.1ZM1028.3 380.3L1031.2 363.1L1034.2 360.1L1037.2 363.1L1034.3 380.3L1031.3 383.3ZM1031.2 363.1L1033.7 348.8L1036.7 345.8L1039.7 348.8L1037.2 363.1L1034.2 366.1ZM1033.7 348.8L1036.1 335L1039.1 332L1042.1 335L1039.7 348.8L1036.7 351.8ZM1036.1 335L1038.6 321.7L1041.6 318.7L1044.6 321.7L1042.1 335L1039.1 338ZM1038.6 321.7L1041.1 309L1044.1 306L1047.1 309L1044.6 321.7L1041.6 324.7ZM1041.1 309L1043.5 297.8L1046.5 294.8L1049.5 297.8L1047.1 309L1044.1 312ZM1043.5 297.8L1045.8 287.2L1048.8 284.2L1051.8 287.2L1049.5 297.8L1046.5 300.8ZM1045.8 287.2L1048.1 276.9L1051.1 273.9L1054.1 276.9L1051.8 287.2L1048.8 290.2ZM1048.1 276.9L1050.6 264.9L1053.6 261.9L1056.6 264.9L1054.1 276.9L1051.1 279.9ZM1050.6 264.9L1053.2 253.3L1056.2 250.3L1059.2 253.3L1056.6 264.9L1053.6 267.9ZM1053.2 253.3L1055.7 244.6L1058.7 241.6L1061.7 244.6L1059.2 253.3L1056.2 256.3ZM1055.7 244.6L1058.1 239.1L1061.1 236.1L1064.1 239.1L1061.7 244.6L1058.7 247.6ZM1058.1 239.1L1060.6 234.5L1063.6 231.5L1066.6 234.5L1064.1 239.1L1061.1 242.1ZM1060.6 234.5L1063 230.9L1066 227.9L1069 230.9L1066.6 234.5L1063.6 237.5ZM1063 230.9L1065.4 228.1L1068.4 225.1L1071.4 228.1L1069 230.9L1066 233.9ZM1065.4 228.1L1068.4 225.1L1070.8 222.8L1073.8 225.8L1070.8 228.8L1068.4 231.1ZM1067.8 225.8L1070.8 222.8L1073.2 220.7L1076.2 223.7L1073.2 226.7L1070.8 228.8ZM1070.2 223.7L1073.2 220.7L1075.6 219.2L1078.6 222.2L1075.6 225.2L1073.2 226.7ZM1072.6 222.2L1075.6 219.2L1078 218.6L1081 221.6L1078 224.6L1075.6 225.2ZM1075 221.6L1078 218.6L1080.2 219L1083.2 222L1080.2 225L1078 224.6ZM1077.2 222L1080.2 219L1082.5 220L1085.5 223L1082.5 226L1080.2 225ZM1079.5 223L1082.5 220L1084.8 221.5L1087.8 224.5L1084.8 227.5L1082.5 226ZM1081.8 224.5L1084.8 221.5L1087 223.1L1090 226.1L1087 229.1L1084.8 227.5ZM1084 226.1L1087 223.1L1089 225L1092 228L1089 231L1087 229.1ZM1086 228L1089 225L1092 228L1094.1 230.7L1091.1 233.7L1088.1 230.7ZM1088.1 230.7L1091.1 227.7L1094.1 230.7L1096.1 233.9L1093.1 236.9L1090.1 233.9ZM1090.1 233.9L1093.1 230.9L1096.1 233.9L1098.4 238.8L1095.4 241.8L1092.4 238.8ZM1092.4 238.8L1095.4 235.8L1098.4 238.8L1100.8 245.1L1097.8 248.1L1094.8 245.1ZM1094.8 245.1L1097.8 242.1L1100.8 245.1L1103.2 251.9L1100.2 254.9L1097.2 251.9ZM1097.2 251.9L1100.2 248.9L1103.2 251.9L1105.5 258.6L1102.5 261.6L1099.5 258.6ZM1099.5 258.6L1102.5 255.6L1105.5 258.6L1107.9 265.1L1104.9 268.1L1101.9 265.1ZM1101.9 265.1L1104.9 262.1L1107.9 265.1L1110.2 271.8L1107.2 274.8L1104.2 271.8ZM1104.2 271.8L1107.2 268.8L1110.2 271.8L1112.6 278.4L1109.6 281.4L1106.6 278.4ZM1106.6 278.4L1109.6 275.4L1112.6 278.4L1115 284.6L1112 287.6L1109 284.6ZM1109 284.6L1112 281.6L1115 284.6L1122.4 301.6L1119.4 304.6L1116.4 301.6ZM1116.4 301.6L1119.4 298.6L1122.4 301.6L1126.7 322.8L1123.7 325.8L1120.7 322.8ZM1120.7 322.8L1123.7 319.8L1126.7 322.8L1134.2 343.9L1131.2 346.9L1128.2 343.9ZM1128.2 343.9L1131.2 340.9L1134.2 343.9L1140.6 363L1137.6 366L1134.6 363ZM1134.6 363L1137.6 360L1140.6 363L1146 381.7L1143 384.7L1140 381.7ZM1140 381.7L1143 378.7L1146 381.7L1153.5 398.9L1150.5 401.9L1147.5 398.9ZM1147.5 398.9L1150.5 395.9L1153.5 398.9L1160 416.1L1157 419.1L1154 416.1ZM1154 416.1L1157 413.1L1160 416.1L1165.4 431.2L1162.4 434.2L1159.4 431.2ZM1159.4 431.2L1162.4 428.2L1165.4 431.2L1168.6 440.9L1165.6 443.9L1162.6 440.9ZM1162.6 440.9L1165.6 437.9L1170 441.7L1173 444.7L1170 447.7L1165.6 443.9ZM1167 444.7L1170 441.7L1180 447.9L1183 450.9L1180 453.9L1170 447.7ZM1177 450.9L1180 447.9L1183 450.9L1190.5 459L1187.5 462L1184.5 459ZM1184.5 459L1187.5 456L1190.5 459L1196.3 466.2L1193.3 469.2L1190.3 466.2ZM1190.3 466.2L1193.3 463.2L1202.1 464.5L1205.1 467.5L1202.1 470.5L1193.3 469.2ZM1199.1 467.5L1202.1 464.5L1209.6 467.8L1212.6 470.8L1209.6 473.8L1202.1 470.5ZM1206.6 470.8L1209.6 467.8L1217 467.6L1220 470.6L1217 473.6L1209.6 473.8ZM1214 470.6L1217 467.6L1224.5 464L1227.5 467L1224.5 470L1217 473.6ZM1221.5 467L1224.5 464L1232 461L1235 464L1232 467L1224.5 470ZM1229 464L1232 461L1237.4 457L1240.4 460L1237.4 463L1232 467ZM1234.4 460L1237.4 457L1247.3 449.1L1250.3 452.1L1247.3 455.1L1237.4 463ZM1244.3 452.1L1247.3 449.1L1257.3 441.7L1260.3 444.7L1257.3 447.7L1247.3 455.1ZM1254.3 444.7L1257.3 441.7L1264.8 439.2L1267.8 442.2L1264.8 445.2L1257.3 447.7ZM1261.8 442.2L1273 428.4L1276 425.4L1279 428.4L1267.8 442.2L1264.8 445.2ZM1273 428.4L1276 425.4L1287.2 424.2L1290.2 427.2L1287.2 430.2L1276 431.4ZM1284.2 427.2L1288.6 422.8L1291.6 419.8L1294.6 422.8L1290.2 427.2L1287.2 430.2ZM1288.6 422.8L1291.6 419.8L1297.2 419.8L1300.2 422.8L1297.2 425.8L1291.6 425.8ZM1294.2 422.8L1297.2 419.8L1300.2 422.8L1305.2 429.7L1302.2 432.7L1299.2 429.7ZM1299.2 429.7L1302.2 426.7L1309.7 428.6L1312.7 431.6L1309.7 434.6L1302.2 432.7ZM1306.7 431.6L1309.7 428.6L1312.7 431.6L1320.2 439.7L1317.2 442.7L1314.2 439.7ZM1314.2 439.7L1317.2 436.7L1320.2 439.7L1326.4 452.1L1323.4 455.1L1320.4 452.1ZM1320.4 452.1L1323.4 449.1L1326.4 452.1L1331.4 460L1328.4 463L1325.4 460ZM1325.4 460L1328.4 457L1331.4 460L1343 475L1340 478L1337 475ZM1337 475L1340 472L1343 475L1350.5 485L1347.5 488L1344.5 485ZM1344.5 485L1347.5 482L1350.5 485L1355.5 500L1352.5 503L1349.5 500ZM1349.5 500L1352.5 497L1355.5 500L1363 520L1360 523L1357 520ZM1357 520L1360 517L1363 520L1375.5 545L1372.5 548L1369.5 545ZM1369.5 545L1372.5 542L1375.5 545L1388 572.5L1385 575.5L1382 572.5ZM1382 572.5L1385 569.5L1388 572.5L1400.5 600L1397.5 603L1394.5 600ZM1394.5 600L1397.5 597L1400.5 600L1413 625L1410 628L1407 625ZM1407 625L1410 622L1413 625L1425.5 650L1422.5 653L1419.5 650ZM1419.5 650L1422.5 647L1425.5 650L1440.5 678.8L1437.5 681.8L1434.5 678.8ZM1434.5 678.8L1437.5 675.8L1447.5 684.5L1450.5 687.5L1447.5 690.5L1437.5 681.8ZM1444.5 687.5L1447.5 684.5L1450.5 687.5L1460.5 708.8L1457.5 711.8L1454.5 708.8ZM1454.5 708.8L1457.5 705.8L1460.5 708.8L1473 722.5L1470 725.5L1467 722.5ZM1467 722.5L1470 719.5L1488 737.5L1485 740.5ZM1482 737.5L1485 734.5L1500 748.2L1503 751.2L1500 754.2L1485 740.5ZM1497 751.2L1500 748.2L1515 760.8L1518 763.8L1515 766.8L1500 754.2ZM1512 763.8L1515 760.8L1525 762L1528 765L1525 768L1515 766.8ZM1522 765L1525 762L1537.5 772L1540.5 775L1537.5 778L1525 768ZM1534.5 775L1537.5 772L1550 779.5L1553 782.5L1550 785.5L1537.5 778ZM1547 782.5L1550 779.5L1560 788.2L1563 791.2L1560 794.2L1550 785.5ZM1557 791.2L1560 788.2L1575 797L1578 800L1575 803L1560 794.2ZM1572 800L1575 797L1587.5 800.8L1590.5 803.8L1587.5 806.8L1575 803ZM1584.5 803.8L1587.5 800.8L1597.5 808.2L1600.5 811.2L1597.5 814.2L1587.5 806.8ZM1594.5 811.2L1597.5 808.2L1612.5 818.2L1615.5 821.2L1612.5 824.2L1597.5 814.2ZM1609.5 821.2L1612.5 818.2L1630 833.2L1633 836.2L1630 839.2L1612.5 824.2ZM1627 836.2L1630 833.2L1645 845.8L1648 848.8L1645 851.8L1630 839.2ZM1642 848.8L1645 845.8L1660 859.5L1663 862.5L1660 865.5L1645 851.8ZM1657 862.5L1660 859.5L1675 873.2L1678 876.2L1675 879.2L1660 865.5ZM1672 876.2L1675 873.2L1685 878.2L1688 881.2L1685 884.2L1675 879.2ZM1682 881.2L1685 878.2L1703 896.2L1700 899.2ZM1697 896.2L1700 893.2L1703 896.2L1715.5 910L1712.5 913L1709.5 910ZM1709.5 910L1712.5 907L1725 915.8L1728 918.8L1725 921.8L1712.5 913ZM1722 918.8L1725 915.8L1740 927L1743 930L1740 933L1725 921.8ZM1737 930L1740 927L1752.5 937L1755.5 940L1752.5 943L1740 933ZM1749.5 940L1752.5 937L1765 948.2L1768 951.2L1765 954.2L1752.5 943ZM1762 951.2L1765 948.2L1772.5 949.5L1775.5 952.5L1772.5 955.5L1765 954.2ZM1769.5 952.5L1772.5 949.5L1775 949.9L1778 952.9L1775 955.9L1772.5 955.5Z" fill="#0024d0" fill-rule="nonzero" stroke="none" clip-path="url(#c500)"/>
</g>
<g id="frame" fill="#000">
<rect x="188.7" y="28.7" width="1597.6" height="5.8"/>
<rect x="188.7" y="1115.4" width="1598" height="5.8"/>
<rect x="189.2" y="28.7" width="6.2" height="1092.5"/>
<rect x="1780.1" y="28.7" width="5.9" height="1092.5"/>
<rect x="200.4" y="1121" width="6" height="58.2"/>
<rect x="592.4" y="1121" width="6" height="58.2"/>
<rect x="984.4" y="1121" width="6" height="58.2"/>
<rect x="1376.9" y="1121" width="6" height="58.2"/>
<rect x="1769.0" y="1121" width="6" height="58.2"/>
</g>
<g id="ticklabels">
<text class="tick" transform="translate(203.4,1286.3) scale(1,1.022)">400</text>
<text class="tick" transform="translate(595.2,1286.3) scale(1,1.022)">500</text>
<text class="tick" transform="translate(987,1286.3) scale(1,1.022)">600</text>
<text class="tick" transform="translate(1379.6,1286.3) scale(1,1.022)">700</text>
<text class="tick" transform="translate(1772,1286.3) scale(1,1.022)">800</text>
</g>
<text class="axl" style="font-size:85px" transform="translate(990.5,1400.9) scale(1,1.012)">Wavelength (nm)</text>
<text class="axl" style="font-size:83.9px" transform="translate(92,548.6) rotate(-90) scale(1,1.012)">Normalized PL intensity</text>
<g id="legend">
<rect x="328" y="231.3" width="126.3" height="6.2" fill="#ff0000"/>
<text class="leg" transform="translate(490.6,260.0) scale(1,1.035)">Pt-1a</text>
<rect x="328" y="328.2" width="126.3" height="6.2" fill="#ffa500"/>
<text class="leg" transform="translate(490.6,356.9) scale(1,1.035)">Pt-1b</text>
<rect x="328" y="425.1" width="126.3" height="6.2" fill="#000000"/>
<text class="leg" transform="translate(490.6,453.8) scale(1,1.035)">Pt-1c</text>
<rect x="328" y="521.4" width="126.3" height="6.2" fill="#00cc00"/>
<text class="leg" transform="translate(490.6,550.1) scale(1,1.035)">Pt-2a</text>
<rect x="328" y="619.2" width="126.3" height="6.2" fill="#0024d0"/>
<text class="leg" transform="translate(490.6,647.9) scale(1,1.035)">Pt-2b</text>
</g>
</svg>
</body></html>
